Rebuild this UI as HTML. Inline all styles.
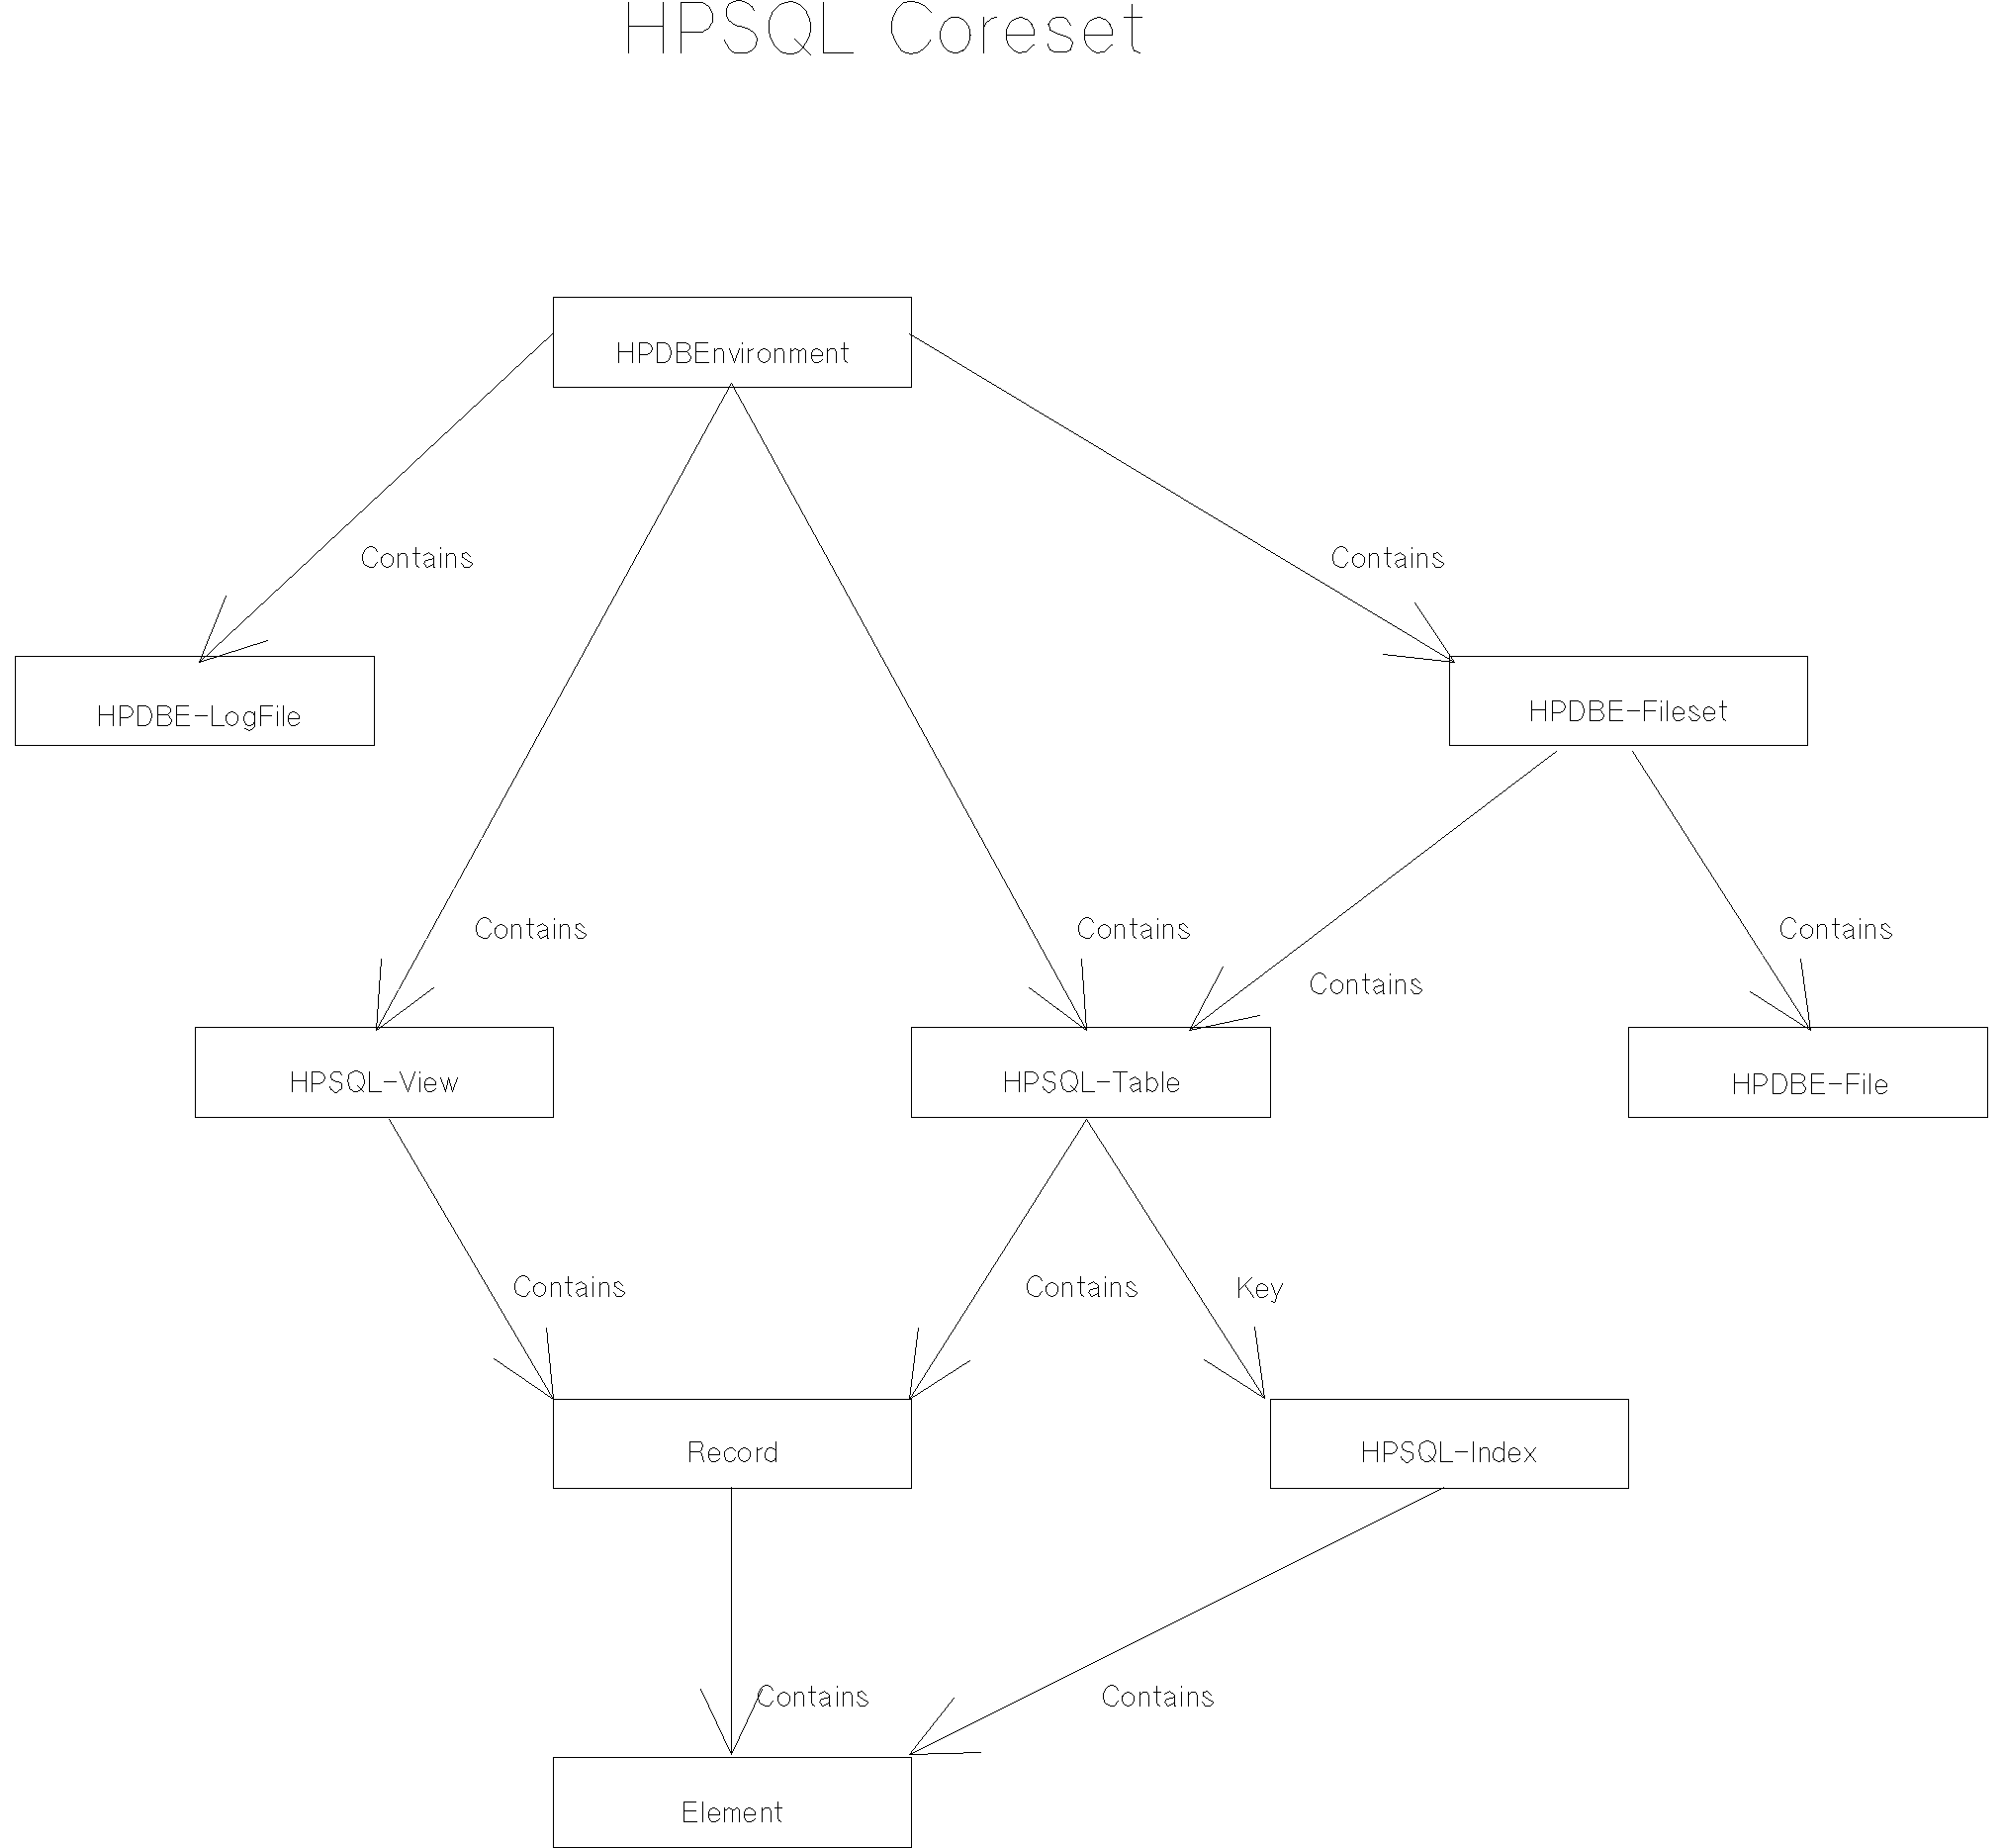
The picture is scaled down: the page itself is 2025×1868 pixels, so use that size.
<!DOCTYPE html><html><head><meta charset="utf-8"><title>HPSQL Coreset</title><style>html,body{margin:0;padding:0;background:#fff;overflow:hidden}svg{display:block}</style></head><body><svg width="2025" height="1868" viewBox="0 0 2025 1868" shape-rendering="crispEdges"><rect width="2025" height="1868" fill="#fff"/><path fill="#000" d="M559 300h363v1h-363zM559 391h363v1h-363zM559 300h1v92h-1zM921 300h1v92h-1zM15 663h364v1h-364zM15 753h364v1h-364zM15 663h1v91h-1zM378 663h1v91h-1zM1465 663h363v1h-363zM1465 753h363v1h-363zM1465 663h1v91h-1zM1827 663h1v91h-1zM197 1038h363v1h-363zM197 1129h363v1h-363zM197 1038h1v92h-1zM559 1038h1v92h-1zM921 1038h364v1h-364zM921 1129h364v1h-364zM921 1038h1v92h-1zM1284 1038h1v92h-1zM1646 1038h364v1h-364zM1646 1129h364v1h-364zM1646 1038h1v92h-1zM2009 1038h1v92h-1zM559 1414h363v1h-363zM559 1504h363v1h-363zM559 1414h1v91h-1zM921 1414h1v91h-1zM1284 1414h363v1h-363zM1284 1504h363v1h-363zM1284 1414h1v91h-1zM1646 1414h1v91h-1zM559 1776h363v1h-363zM559 1867h363v1h-363zM559 1776h1v92h-1zM921 1776h1v92h-1zM559.02 337.55L201.02 670.48L201.02 669.48L559.02 336.55ZM200.82 670.01L228.22 602.01L229.22 602.01L201.82 670.01ZM201.02 669.17L271.02 646.85L271.02 647.85L201.02 670.17ZM740.29 387.01L380.74 1042.01L379.74 1042.01L739.29 387.01ZM379.98 1042.01L385.05 969.01L386.05 969.01L380.98 1042.01ZM380.02 1041.38L439.02 997.64L439.02 998.64L380.02 1042.38ZM739.74 387.01L1099.29 1042.01L1098.29 1042.01L738.74 387.01ZM1099.02 1042.38L1040.02 998.64L1040.02 997.64L1099.02 1041.38ZM1098.05 1042.01L1092.98 969.01L1093.98 969.01L1099.05 1042.01ZM919.02 336.71L1471.02 669.31L1471.02 670.31L919.02 337.71ZM1471.02 670.07L1398.02 661.96L1398.02 660.96L1471.02 669.07ZM1470.35 670.01L1429.68 609.01L1430.68 609.01L1471.35 670.01ZM1574.02 759.63L1202.02 1042.39L1202.02 1041.39L1574.02 758.63ZM1201.75 1042.01L1236.28 977.01L1237.28 977.01L1202.75 1042.01ZM1202.02 1041.12L1274.02 1025.91L1274.02 1026.91L1202.02 1042.12ZM1650.7 759.01L1831.34 1042.01L1830.34 1042.01L1649.7 759.01ZM1831.02 1042.33L1769.02 1002.69L1769.02 1001.69L1831.02 1041.33ZM1830.09 1042.01L1819.95 969.01L1820.95 969.01L1831.09 1042.01ZM393.72 1131.01L560.31 1415.01L559.31 1415.01L392.72 1131.01ZM560.02 1415.35L499.02 1373.67L499.02 1372.67L560.02 1414.35ZM559.07 1415.01L551.97 1342.01L552.97 1342.01L560.07 1415.01ZM1099.33 1131.01L919.7 1415.01L918.7 1415.01L1098.33 1131.01ZM918.95 1415.01L928.08 1342.01L929.08 1342.01L919.95 1415.01ZM919.02 1414.33L981.02 1374.69L981.02 1375.69L919.02 1415.33ZM1098.7 1131.01L1279.34 1414.01L1278.34 1414.01L1097.7 1131.01ZM1279.02 1414.33L1217.02 1374.69L1217.02 1373.69L1279.02 1413.33ZM1278.09 1414.01L1267.95 1341.01L1268.95 1341.01L1279.09 1414.01ZM740.02 1503.01L740.02 1774.01L739.02 1774.01L739.02 1503.01ZM739.25 1774.01L707.78 1707.01L708.78 1707.01L740.25 1774.01ZM738.78 1774.01L770.25 1707.01L771.25 1707.01L739.78 1774.01ZM1460.02 1503.76L919.02 1774.26L919.02 1773.26L1460.02 1502.76ZM918.62 1774.01L964.41 1716.01L965.41 1716.01L919.62 1774.01ZM919.02 1773.03L992.02 1771L992.02 1772L919.02 1774.03Z"/><path fill="#000" d="M636.02 1.81L636.02 54.01L635.02 54.01L635.02 1.81ZM671.3 1.81L671.3 54.01L670.3 54.01L670.3 1.81ZM635.02 26.13L671.3 26.13L671.3 27.13L635.02 27.13ZM688.02 54.01L688.02 1.81L689.02 1.81L689.02 54.01ZM688.02 1.81L710.19 1.81L710.19 2.81L688.02 2.81ZM709.19 1.51L716.99 6.21L716.99 7.21L709.19 2.51ZM716.71 5.91L721.3 14.08L720.3 14.08L715.71 5.91ZM721 13.08L721.29 21.76L720.29 21.76L720 13.08ZM721.57 20.76L716.69 28.93L715.69 28.93L720.57 20.76ZM716.99 28.62L709.19 33.32L709.19 32.32L716.99 27.62ZM710.19 33.02L688.02 33.02L688.02 32.02L710.19 32.02ZM762.31 11L759.18 5.91L760.18 5.91L763.31 11ZM760.49 7.28L753.94 2.44L753.94 1.44L760.49 6.28ZM754.94 2.98L747.64 0.6L747.64 -0.4L754.94 1.98ZM748.64 0.68L741.85 1.88L741.85 0.88L748.64 -0.32ZM742.85 1.54L736.3 4.86L736.3 3.86L742.85 0.54ZM737.55 3.6L734.79 9.21L733.79 9.21L736.55 3.6ZM735.03 8.21L735.03 16.64L734.03 16.64L734.03 8.21ZM734.79 15.64L737.55 21.25L736.55 21.25L733.79 15.64ZM736.3 19.87L743.85 25.48L743.85 26.48L736.3 20.87ZM742.85 25L750.91 26.75L750.91 27.75L742.85 26ZM749.91 26.47L758.22 29.38L758.22 30.38L749.91 27.47ZM757.22 28.81L764.01 34.21L764.01 35.21L757.22 29.81ZM763.83 33.81L766.21 40.45L765.21 40.45L762.83 33.81ZM766.15 39.45L764.4 46.84L763.4 46.84L765.15 39.45ZM764.93 45.84L760.07 51.71L759.07 51.71L763.93 45.84ZM760.49 51.5L753.94 54.22L753.94 53.22L760.49 50.5ZM754.94 54.01L741.85 54.01L741.85 53.01L754.94 53.01ZM742.85 54.36L737.81 50.85L737.81 49.85L742.85 53.36ZM738.11 51.2L731.21 39.7L732.21 39.7L739.11 51.2ZM799.44 1.64L787.6 5.27L787.6 4.27L799.44 0.64ZM789.08 4.12L781.32 12.28L780.32 12.28L788.08 4.12ZM782.02 11.28L778.55 18.94L777.55 18.94L781.02 11.28ZM778.85 17.94L777.94 24.06L776.94 24.06L777.85 17.94ZM778.02 23.06L778.02 32L777.02 32L777.02 23.06ZM777.92 31L779.12 37.37L778.12 37.37L776.92 31ZM778.77 36.37L784.07 46.59L783.07 46.59L777.77 36.37ZM783.32 45.59L790.61 52.99L789.61 52.99L782.32 45.59ZM789.11 51.84L796.16 53.93L796.16 54.93L789.11 52.84ZM795.16 53.78L802.46 53.78L802.46 54.78L795.16 54.78ZM801.46 53.94L808.01 51.83L808.01 52.83L801.46 54.94ZM807.01 52.47L812.54 47.16L812.54 48.16L807.01 53.47ZM811.28 48.64L813.57 44.31L814.57 44.31L812.28 48.64ZM813.04 45.31L818.11 35.86L819.11 35.86L814.04 45.31ZM817.74 36.86L818.95 31L819.95 31L818.74 36.86ZM818.85 32L818.85 23.06L819.85 23.06L819.85 32ZM818.95 24.06L817.74 17.94L818.74 17.94L819.95 24.06ZM818.08 18.94L814.08 10.52L815.08 10.52L819.08 18.94ZM815.31 12.01L807.76 4.63L807.76 3.63L815.31 11.01ZM808.76 5.41L804.23 2.78L804.23 1.78L808.76 4.41ZM805.23 3.18L798.44 1.68L798.44 0.68L805.23 2.18ZM803.23 39.23L819.6 54.77L819.6 55.77L803.23 40.23ZM833.02 1.81L833.02 54.01L832.02 54.01L832.02 1.81ZM832.02 53.01L862.75 53.01L862.75 54.01L832.02 54.01ZM940.8 12.8L933.81 5.4L934.81 5.4L941.8 12.8ZM935.28 6.64L926.97 2.68L926.97 1.68L935.28 5.64ZM927.97 3L920.67 1.7L920.67 0.7L927.97 2ZM921.67 1.71L913.62 3L913.62 2L921.67 0.71ZM914.62 2.52L909.59 6.54L909.59 5.54L914.62 1.52ZM911 5.14L906.14 11L905.14 11L910 5.14ZM906.8 10L902.78 18.17L901.78 18.17L905.8 10ZM903.11 17.17L901.68 25.34L900.68 25.34L902.11 17.17ZM901.73 24.34L902.56 34.81L901.56 34.81L900.73 24.34ZM902.3 33.81L906.78 43.77L905.78 43.77L901.3 33.81ZM906.22 42.77L912.18 51.71L911.18 51.71L905.22 42.77ZM910.85 50.48L916.89 53.24L916.89 54.24L910.85 51.48ZM915.89 52.93L921.67 53.86L921.67 54.86L915.89 53.93ZM920.67 53.87L928.73 52.41L928.73 53.41L920.67 54.87ZM927.73 52.82L933.52 49.11L933.52 50.11L927.73 53.82ZM932.52 49.87L937.55 45.4L937.55 46.4L932.52 50.87ZM936.24 46.84L940.64 39.7L941.64 39.7L937.24 46.84ZM981.56 34.84L980.93 40.54L979.93 40.54L980.56 34.84ZM981.16 39.54L979.29 44.92L978.29 44.92L980.16 39.54ZM979.79 43.92L976.72 48.69L975.72 48.69L978.79 43.92ZM977.04 48.23L972.89 52.04L972.89 51.04L977.04 47.23ZM973.89 51.33L969.21 53.64L969.21 52.64L973.89 50.33ZM970.21 53.32L965.26 54.09L965.26 53.09L970.21 52.32ZM966.26 54.09L961.32 53.32L961.32 52.32L966.26 53.09ZM962.32 53.64L957.64 51.33L957.64 50.33L962.32 52.64ZM958.64 52.04L954.48 48.23L954.48 47.23L958.64 51.04ZM954.8 48.69L951.74 43.92L952.74 43.92L955.8 48.69ZM952.23 44.92L950.36 39.54L951.36 39.54L953.23 44.92ZM950.59 40.54L949.96 34.84L950.96 34.84L951.59 40.54ZM949.96 35.84L950.59 30.13L951.59 30.13L950.96 35.84ZM950.36 31.13L952.23 25.75L953.23 25.75L951.36 31.13ZM951.74 26.75L954.8 21.98L955.8 21.98L952.74 26.75ZM954.48 22.44L958.64 18.64L958.64 19.64L954.48 23.44ZM957.64 19.34L962.32 17.03L962.32 18.03L957.64 20.34ZM961.32 17.36L966.26 16.58L966.26 17.58L961.32 18.36ZM965.26 16.58L970.21 17.36L970.21 18.36L965.26 17.58ZM969.21 17.03L973.89 19.34L973.89 20.34L969.21 18.03ZM972.89 18.64L977.04 22.44L977.04 23.44L972.89 19.64ZM976.72 21.98L979.79 26.75L978.79 26.75L975.72 21.98ZM979.29 25.75L981.16 31.13L980.16 31.13L978.29 25.75ZM980.93 30.13L981.56 35.84L980.56 35.84L979.93 30.13ZM995.02 16.66L995.02 54.01L994.02 54.01L994.02 16.66ZM993.74 28.41L996.81 22.8L997.81 22.8L994.74 28.41ZM996.54 23.26L1002.33 18L1002.33 19L996.54 24.26ZM1001.33 18.6L1008.37 16.51L1008.37 17.51L1001.33 19.6ZM1017.02 34.84L1046.24 34.84L1046.24 35.84L1017.02 35.84ZM1045.29 35.84L1044.69 29.46L1045.69 29.46L1046.29 35.84ZM1044.95 30.46L1042 23.57L1043 23.57L1045.95 30.46ZM1042.61 24.57L1038.8 19.73L1039.8 19.73L1043.61 24.57ZM1040.19 20.92L1030.88 17.48L1030.88 16.48L1040.19 19.92ZM1031.88 17.43L1021.55 22.25L1021.55 21.25L1031.88 16.43ZM1022.83 21.01L1018.24 29.18L1017.24 29.18L1021.83 21.01ZM1018.55 28.18L1017.99 39.42L1016.99 39.42L1017.55 28.18ZM1017.88 38.42L1019.92 45.82L1018.92 45.82L1016.88 38.42ZM1019.29 44.82L1026.07 51.71L1025.07 51.71L1018.29 44.82ZM1024.58 50.49L1030.87 53.23L1030.87 54.23L1024.58 51.49ZM1029.87 53.12L1038.18 51.37L1038.18 52.37L1029.87 54.12ZM1037.18 51.92L1045.74 44.38L1045.74 45.38L1037.18 52.92ZM1082.3 25.85L1076.56 17.68L1077.56 17.68L1083.3 25.85ZM1077.91 18.78L1071.37 17.57L1071.37 16.57L1077.91 17.78ZM1072.37 17.58L1063.55 19.02L1063.55 18.02L1072.37 16.58ZM1064.91 17.94L1060.16 24.57L1059.16 24.57L1063.91 17.94ZM1060.37 23.57L1062.69 31.23L1061.69 31.23L1059.37 23.57ZM1061.54 29.99L1067.83 33.03L1067.83 34.03L1061.54 30.99ZM1066.83 32.61L1081.94 38.09L1081.94 39.09L1066.83 33.61ZM1081.56 37.91L1085.59 43.26L1084.59 43.26L1080.56 37.91ZM1085.39 42.26L1082.53 50.68L1081.53 50.68L1084.39 42.26ZM1082.7 50.38L1077.92 53.29L1077.92 52.29L1082.7 49.38ZM1078.92 52.99L1065.82 52.99L1065.82 51.99L1078.92 51.99ZM1066.82 53.22L1060.78 50.46L1060.78 49.46L1066.82 52.22ZM1060.97 50.68L1058.33 43.54L1059.33 43.54L1061.97 50.68ZM1096.02 34.84L1125.24 34.84L1125.24 35.84L1096.02 35.84ZM1124.29 35.84L1123.69 29.46L1124.69 29.46L1125.29 35.84ZM1123.95 30.46L1121 23.57L1122 23.57L1124.95 30.46ZM1121.61 24.57L1117.8 19.73L1118.8 19.73L1122.61 24.57ZM1119.19 20.92L1109.88 17.48L1109.88 16.48L1119.19 19.92ZM1110.88 17.43L1100.55 22.25L1100.55 21.25L1110.88 16.43ZM1101.83 21.01L1097.24 29.18L1096.24 29.18L1100.83 21.01ZM1097.55 28.18L1096.99 39.42L1095.99 39.42L1096.55 28.18ZM1096.88 38.42L1098.92 45.82L1097.92 45.82L1095.88 38.42ZM1098.29 44.82L1105.07 51.71L1104.07 51.71L1097.29 44.82ZM1103.58 50.49L1109.87 53.23L1109.87 54.23L1103.58 51.49ZM1108.87 53.12L1117.18 51.37L1117.18 52.37L1108.87 54.12ZM1116.18 51.92L1124.74 44.38L1124.74 45.38L1116.18 52.92ZM1136.02 17.17L1154.91 17.17L1154.91 18.17L1136.02 18.17ZM1145.08 3.6L1145.08 46.59L1144.08 46.59L1144.08 3.6ZM1144.91 45.59L1147.02 51.71L1146.02 51.71L1143.91 45.59ZM1145.85 50.53L1153.4 53.19L1153.4 54.19L1145.85 51.53ZM626.02 346.01L626.02 367.01L625.02 367.01L625.02 346.01ZM640.02 346.01L640.02 367.01L639.02 367.01L639.02 346.01ZM625.02 355.01L640.02 355.01L640.02 356.01L625.02 356.01ZM646.02 367.01L646.02 346.01L647.02 346.01L647.02 367.01ZM646.02 346.01L654.02 346.01L654.02 347.01L646.02 347.01ZM653.02 345.85L657.02 347.18L657.02 348.18L653.02 346.85ZM656.02 346.51L659.02 349.51L659.02 350.51L656.02 347.51ZM658.85 349.01L660.18 353.01L659.18 353.01L657.85 349.01ZM660.27 352.01L658.77 355.01L657.77 355.01L659.27 352.01ZM659.27 354.01L657.77 357.01L656.77 357.01L658.27 354.01ZM658.02 356.68L654.02 359.35L654.02 358.35L658.02 355.68ZM655.02 359.01L646.02 359.01L646.02 358.01L655.02 358.01ZM664.02 367.01L664.02 346.01L665.02 346.01L665.02 367.01ZM664.02 346.01L672.02 346.01L672.02 347.01L664.02 347.01ZM671.02 345.76L676.02 348.26L676.02 349.26L671.02 346.76ZM675.68 348.01L678.35 352.01L677.35 352.01L674.68 348.01ZM677.92 351.01L679.12 357.01L678.12 357.01L676.92 351.01ZM679.12 356.01L677.92 362.01L676.92 362.01L678.12 356.01ZM678.35 361.01L675.68 365.01L674.68 365.01L677.35 361.01ZM676.02 364.76L671.02 367.26L671.02 366.26L676.02 363.76ZM672.02 367.01L664.02 367.01L664.02 366.01L672.02 366.01ZM684.02 367.01L684.02 346.01L685.02 346.01L685.02 367.01ZM684.02 346.01L694.02 346.01L694.02 347.01L684.02 347.01ZM693.02 345.64L698.02 349.39L698.02 350.39L693.02 346.64ZM698.02 349.01L698.02 353.01L697.02 353.01L697.02 349.01ZM698.02 352.51L694.02 356.51L694.02 355.51L698.02 351.51ZM695.02 356.01L684.02 356.01L684.02 355.01L695.02 355.01ZM694.64 355.01L698.39 360.01L697.39 360.01L693.64 355.01ZM697.77 359.01L699.27 362.01L698.27 362.01L696.77 359.01ZM699.18 361.01L697.85 365.01L696.85 365.01L698.18 361.01ZM698.02 364.68L694.02 367.35L694.02 366.35L698.02 363.68ZM695.02 367.01L684.02 367.01L684.02 366.01L695.02 366.01ZM716.02 347.01L703.02 347.01L703.02 346.01L716.02 346.01ZM704.02 346.01L704.02 367.01L703.02 367.01L703.02 346.01ZM703.02 366.01L717.02 366.01L717.02 367.01L703.02 367.01ZM703.02 355.01L716.02 355.01L716.02 356.01L703.02 356.01ZM723.02 352.01L723.02 367.01L722.02 367.01L722.02 352.01ZM722.02 355.51L726.02 351.51L726.02 352.51L722.02 356.51ZM725.02 352.01L730.02 352.01L730.02 353.01L725.02 353.01ZM729.68 352.01L732.35 356.01L731.35 356.01L728.68 352.01ZM732.02 355.01L732.02 367.01L731.02 367.01L731.02 355.01ZM737.84 352.01L743.2 367.01L742.2 367.01L736.84 352.01ZM741.84 367.01L747.2 352.01L748.2 352.01L742.84 367.01ZM751.02 352.01L751.02 367.01L750.02 367.01L750.02 352.01ZM757.02 352.01L757.02 367.01L756.02 367.01L756.02 352.01ZM756.02 355.35L760.02 352.68L760.02 353.68L756.02 356.35ZM759.02 353.26L762.02 351.76L762.02 352.76L759.02 354.26ZM773.02 352.8L768.52 354.73L768.52 353.73L773.02 351.8ZM769.92 353.51L767.12 357.01L766.12 357.01L768.92 353.51ZM767.6 356.01L766.93 360.01L765.93 360.01L766.6 356.01ZM766.92 359.01L767.62 362.51L766.62 362.51L765.92 359.01ZM767.18 361.51L769.85 365.51L768.85 365.51L766.18 361.51ZM768.52 364.3L773.02 366.23L773.02 367.23L768.52 365.3ZM772.02 366.23L776.52 364.3L776.52 365.3L772.02 367.23ZM775.18 365.51L777.85 361.51L778.85 361.51L776.18 365.51ZM777.42 362.51L778.12 359.01L779.12 359.01L778.42 362.51ZM778.1 360.01L777.43 356.01L778.43 356.01L779.1 360.01ZM777.92 357.01L775.12 353.51L776.12 353.51L778.92 357.01ZM776.52 354.73L772.02 352.8L772.02 351.8L776.52 353.73ZM784.02 352.01L784.02 367.01L783.02 367.01L783.02 352.01ZM783.02 355.51L787.02 351.51L787.02 352.51L783.02 356.51ZM786.02 352.01L791.02 352.01L791.02 353.01L786.02 353.01ZM790.68 352.01L793.35 356.01L792.35 356.01L789.68 352.01ZM793.02 355.01L793.02 367.01L792.02 367.01L792.02 355.01ZM800.02 352.01L800.02 367.01L799.02 367.01L799.02 352.01ZM799.02 355.39L804.02 351.64L804.02 352.64L799.02 356.39ZM803.02 351.85L807.02 353.18L807.02 354.18L803.02 352.85ZM806.77 353.01L808.27 356.01L807.27 356.01L805.77 353.01ZM808.02 355.01L808.02 367.01L807.02 367.01L807.02 355.01ZM807.02 355.39L812.02 351.64L812.02 352.64L807.02 356.39ZM811.02 351.76L814.02 353.26L814.02 354.26L811.02 352.76ZM813.77 353.01L815.27 356.01L814.27 356.01L812.77 353.01ZM815.02 355.01L815.02 367.01L814.02 367.01L814.02 355.01ZM820.02 359.01L832.02 359.01L832.02 360.01L820.02 360.01ZM831.1 360.01L830.43 356.01L831.43 356.01L832.1 360.01ZM830.92 357.01L828.12 353.51L829.12 353.51L831.92 357.01ZM829.52 354.73L825.02 352.8L825.02 351.8L829.52 353.73ZM826.02 352.8L821.52 354.73L821.52 353.73L826.02 351.8ZM822.82 353.51L820.72 357.01L819.72 357.01L821.82 353.51ZM821.02 356.01L821.02 362.51L820.02 362.51L820.02 356.01ZM820.82 361.51L822.22 365.01L821.22 365.01L819.82 361.51ZM821.02 363.61L824.52 366.41L824.52 367.41L821.02 364.61ZM823.52 366.01L827.52 366.01L827.52 367.01L823.52 367.01ZM826.52 366.26L830.52 364.26L830.52 365.26L826.52 367.26ZM829.52 365.01L832.02 362.51L832.02 363.51L829.52 366.01ZM837.02 352.01L837.02 367.01L836.02 367.01L836.02 352.01ZM836.02 355.51L840.02 351.51L840.02 352.51L836.02 356.51ZM839.02 352.01L844.02 352.01L844.02 353.01L839.02 353.01ZM843.68 352.01L846.35 356.01L845.35 356.01L842.68 352.01ZM846.02 355.01L846.02 367.01L845.02 367.01L845.02 355.01ZM850.02 352.01L858.02 352.01L858.02 353.01L850.02 353.01ZM854.02 346.01L854.02 364.01L853.02 364.01L853.02 346.01ZM853.77 363.01L855.27 366.01L854.27 366.01L852.77 363.01ZM854.02 364.76L857.02 366.26L857.02 367.26L854.02 365.76ZM750 346h1v2h-1zM101.02 713.01L101.02 734.01L100.02 734.01L100.02 713.01ZM115.02 713.01L115.02 734.01L114.02 734.01L114.02 713.01ZM100.02 722.01L115.02 722.01L115.02 723.01L100.02 723.01ZM121.02 734.01L121.02 713.01L122.02 713.01L122.02 734.01ZM121.02 713.01L129.02 713.01L129.02 714.01L121.02 714.01ZM128.02 712.85L132.02 714.18L132.02 715.18L128.02 713.85ZM131.02 713.51L134.02 716.51L134.02 717.51L131.02 714.51ZM133.85 716.01L135.18 720.01L134.18 720.01L132.85 716.01ZM135.27 719.01L133.77 722.01L132.77 722.01L134.27 719.01ZM134.27 721.01L132.77 724.01L131.77 724.01L133.27 721.01ZM133.02 723.68L129.02 726.35L129.02 725.35L133.02 722.68ZM130.02 726.01L121.02 726.01L121.02 725.01L130.02 725.01ZM139.02 734.01L139.02 713.01L140.02 713.01L140.02 734.01ZM139.02 713.01L147.02 713.01L147.02 714.01L139.02 714.01ZM146.02 712.76L151.02 715.26L151.02 716.26L146.02 713.76ZM150.68 715.01L153.35 719.01L152.35 719.01L149.68 715.01ZM152.92 718.01L154.12 724.01L153.12 724.01L151.92 718.01ZM154.12 723.01L152.92 729.01L151.92 729.01L153.12 723.01ZM153.35 728.01L150.68 732.01L149.68 732.01L152.35 728.01ZM151.02 731.76L146.02 734.26L146.02 733.26L151.02 730.76ZM147.02 734.01L139.02 734.01L139.02 733.01L147.02 733.01ZM159.02 734.01L159.02 713.01L160.02 713.01L160.02 734.01ZM159.02 713.01L169.02 713.01L169.02 714.01L159.02 714.01ZM168.02 712.64L173.02 716.39L173.02 717.39L168.02 713.64ZM173.02 716.01L173.02 720.01L172.02 720.01L172.02 716.01ZM173.02 719.51L169.02 723.51L169.02 722.51L173.02 718.51ZM170.02 723.01L159.02 723.01L159.02 722.01L170.02 722.01ZM169.64 722.01L173.39 727.01L172.39 727.01L168.64 722.01ZM172.77 726.01L174.27 729.01L173.27 729.01L171.77 726.01ZM174.18 728.01L172.85 732.01L171.85 732.01L173.18 728.01ZM173.02 731.68L169.02 734.35L169.02 733.35L173.02 730.68ZM170.02 734.01L159.02 734.01L159.02 733.01L170.02 733.01ZM191.02 714.01L178.02 714.01L178.02 713.01L191.02 713.01ZM179.02 713.01L179.02 734.01L178.02 734.01L178.02 713.01ZM178.02 733.01L192.02 733.01L192.02 734.01L178.02 734.01ZM178.02 722.01L191.02 722.01L191.02 723.01L178.02 723.01ZM197.02 723.01L210.02 723.01L210.02 724.01L197.02 724.01ZM215.02 713.01L215.02 734.01L214.02 734.01L214.02 713.01ZM214.02 733.01L227.02 733.01L227.02 734.01L214.02 734.01ZM235.02 719.8L230.52 721.73L230.52 720.73L235.02 718.8ZM231.92 720.51L229.12 724.01L228.12 724.01L230.92 720.51ZM229.6 723.01L228.93 727.01L227.93 727.01L228.6 723.01ZM228.92 726.01L229.62 729.51L228.62 729.51L227.92 726.01ZM229.18 728.51L231.85 732.51L230.85 732.51L228.18 728.51ZM230.52 731.3L235.02 733.23L235.02 734.23L230.52 732.3ZM234.02 733.23L238.52 731.3L238.52 732.3L234.02 734.23ZM237.18 732.51L239.85 728.51L240.85 728.51L238.18 732.51ZM239.42 729.51L240.12 726.01L241.12 726.01L240.42 729.51ZM240.1 727.01L239.43 723.01L240.43 723.01L241.1 727.01ZM239.92 724.01L237.12 720.51L238.12 720.51L240.92 724.01ZM238.52 721.73L234.02 719.8L234.02 718.8L238.52 720.73ZM258.02 719.01L258.02 735.01L257.02 735.01L257.02 719.01ZM258.02 734.51L255.02 737.51L255.02 736.51L258.02 733.51ZM256.02 736.76L251.02 739.26L251.02 738.26L256.02 735.76ZM252.02 739.26L247.02 736.76L247.02 735.76L252.02 738.26ZM257.35 724.01L254.68 720.01L255.68 720.01L258.35 724.01ZM256.02 721.14L251.02 719.89L251.02 718.89L256.02 720.14ZM252.02 719.85L248.02 721.18L248.02 720.18L252.02 718.85ZM249.22 720.01L246.82 726.01L245.82 726.01L248.22 720.01ZM247.02 725.01L247.02 729.01L246.02 729.01L246.02 725.01ZM246.77 728.01L249.27 733.01L248.27 733.01L245.77 728.01ZM248.02 731.85L252.02 733.18L252.02 734.18L248.02 732.85ZM251.02 733.14L256.02 731.89L256.02 732.89L251.02 734.14ZM254.68 733.01L257.35 729.01L258.35 729.01L255.68 733.01ZM276.02 714.01L263.02 714.01L263.02 713.01L276.02 713.01ZM264.02 713.01L264.02 734.01L263.02 734.01L263.02 713.01ZM263.02 723.01L275.02 723.01L275.02 724.01L263.02 724.01ZM281.02 719.01L281.02 734.01L280.02 734.01L280.02 719.01ZM287.02 713.01L287.02 734.01L286.02 734.01L286.02 713.01ZM291.02 726.01L303.02 726.01L303.02 727.01L291.02 727.01ZM302.1 727.01L301.43 723.01L302.43 723.01L303.1 727.01ZM301.92 724.01L299.12 720.51L300.12 720.51L302.92 724.01ZM300.52 721.73L296.02 719.8L296.02 718.8L300.52 720.73ZM297.02 719.8L292.52 721.73L292.52 720.73L297.02 718.8ZM293.82 720.51L291.72 724.01L290.72 724.01L292.82 720.51ZM292.02 723.01L292.02 729.51L291.02 729.51L291.02 723.01ZM291.82 728.51L293.22 732.01L292.22 732.01L290.82 728.51ZM292.02 730.61L295.52 733.41L295.52 734.41L292.02 731.61ZM294.52 733.01L298.52 733.01L298.52 734.01L294.52 734.01ZM297.52 733.26L301.52 731.26L301.52 732.26L297.52 734.26ZM300.52 732.01L303.02 729.51L303.02 730.51L300.52 733.01ZM280 713h1v2h-1zM1549.02 708.01L1549.02 729.01L1548.02 729.01L1548.02 708.01ZM1563.02 708.01L1563.02 729.01L1562.02 729.01L1562.02 708.01ZM1548.02 717.01L1563.02 717.01L1563.02 718.01L1548.02 718.01ZM1569.02 729.01L1569.02 708.01L1570.02 708.01L1570.02 729.01ZM1569.02 708.01L1577.02 708.01L1577.02 709.01L1569.02 709.01ZM1576.02 707.85L1580.02 709.18L1580.02 710.18L1576.02 708.85ZM1579.02 708.51L1582.02 711.51L1582.02 712.51L1579.02 709.51ZM1581.85 711.01L1583.18 715.01L1582.18 715.01L1580.85 711.01ZM1583.27 714.01L1581.77 717.01L1580.77 717.01L1582.27 714.01ZM1582.27 716.01L1580.77 719.01L1579.77 719.01L1581.27 716.01ZM1581.02 718.68L1577.02 721.35L1577.02 720.35L1581.02 717.68ZM1578.02 721.01L1569.02 721.01L1569.02 720.01L1578.02 720.01ZM1587.02 729.01L1587.02 708.01L1588.02 708.01L1588.02 729.01ZM1587.02 708.01L1595.02 708.01L1595.02 709.01L1587.02 709.01ZM1594.02 707.76L1599.02 710.26L1599.02 711.26L1594.02 708.76ZM1598.68 710.01L1601.35 714.01L1600.35 714.01L1597.68 710.01ZM1600.92 713.01L1602.12 719.01L1601.12 719.01L1599.92 713.01ZM1602.12 718.01L1600.92 724.01L1599.92 724.01L1601.12 718.01ZM1601.35 723.01L1598.68 727.01L1597.68 727.01L1600.35 723.01ZM1599.02 726.76L1594.02 729.26L1594.02 728.26L1599.02 725.76ZM1595.02 729.01L1587.02 729.01L1587.02 728.01L1595.02 728.01ZM1607.02 729.01L1607.02 708.01L1608.02 708.01L1608.02 729.01ZM1607.02 708.01L1617.02 708.01L1617.02 709.01L1607.02 709.01ZM1616.02 707.64L1621.02 711.39L1621.02 712.39L1616.02 708.64ZM1621.02 711.01L1621.02 715.01L1620.02 715.01L1620.02 711.01ZM1621.02 714.51L1617.02 718.51L1617.02 717.51L1621.02 713.51ZM1618.02 718.01L1607.02 718.01L1607.02 717.01L1618.02 717.01ZM1617.64 717.01L1621.39 722.01L1620.39 722.01L1616.64 717.01ZM1620.77 721.01L1622.27 724.01L1621.27 724.01L1619.77 721.01ZM1622.18 723.01L1620.85 727.01L1619.85 727.01L1621.18 723.01ZM1621.02 726.68L1617.02 729.35L1617.02 728.35L1621.02 725.68ZM1618.02 729.01L1607.02 729.01L1607.02 728.01L1618.02 728.01ZM1640.02 709.01L1627.02 709.01L1627.02 708.01L1640.02 708.01ZM1628.02 708.01L1628.02 729.01L1627.02 729.01L1627.02 708.01ZM1627.02 728.01L1641.02 728.01L1641.02 729.01L1627.02 729.01ZM1627.02 717.01L1640.02 717.01L1640.02 718.01L1627.02 718.01ZM1645.02 718.01L1658.02 718.01L1658.02 719.01L1645.02 719.01ZM1675.02 709.01L1662.02 709.01L1662.02 708.01L1675.02 708.01ZM1663.02 708.01L1663.02 729.01L1662.02 729.01L1662.02 708.01ZM1662.02 718.01L1674.02 718.01L1674.02 719.01L1662.02 719.01ZM1680.02 714.01L1680.02 729.01L1679.02 729.01L1679.02 714.01ZM1686.02 708.01L1686.02 729.01L1685.02 729.01L1685.02 708.01ZM1691.02 721.01L1703.02 721.01L1703.02 722.01L1691.02 722.01ZM1702.1 722.01L1701.43 718.01L1702.43 718.01L1703.1 722.01ZM1701.92 719.01L1699.12 715.51L1700.12 715.51L1702.92 719.01ZM1700.52 716.73L1696.02 714.8L1696.02 713.8L1700.52 715.73ZM1697.02 714.8L1692.52 716.73L1692.52 715.73L1697.02 713.8ZM1693.82 715.51L1691.72 719.01L1690.72 719.01L1692.82 715.51ZM1692.02 718.01L1692.02 724.51L1691.02 724.51L1691.02 718.01ZM1691.82 723.51L1693.22 727.01L1692.22 727.01L1690.82 723.51ZM1692.02 725.61L1695.52 728.41L1695.52 729.41L1692.02 726.61ZM1694.52 728.01L1698.52 728.01L1698.52 729.01L1694.52 729.01ZM1697.52 728.26L1701.52 726.26L1701.52 727.26L1697.52 729.26ZM1700.52 727.01L1703.02 724.51L1703.02 725.51L1700.52 728.01ZM1717.02 718.51L1712.02 713.51L1712.02 712.51L1717.02 717.51ZM1713.02 713.89L1708.02 715.14L1708.02 714.14L1713.02 712.89ZM1709.02 714.01L1709.02 719.01L1708.02 719.01L1708.02 714.01ZM1708.02 717.76L1711.02 719.26L1711.02 720.26L1708.02 718.76ZM1710.02 718.7L1719.02 724.33L1719.02 725.33L1710.02 719.7ZM1719.02 724.01L1719.02 726.01L1718.02 726.01L1718.02 724.01ZM1719.02 725.51L1715.02 729.51L1715.02 728.51L1719.02 724.51ZM1716.02 729.01L1710.02 729.01L1710.02 728.01L1716.02 728.01ZM1710.39 729.01L1706.64 724.01L1707.64 724.01L1711.39 729.01ZM1722.02 721.01L1734.02 721.01L1734.02 722.01L1722.02 722.01ZM1733.1 722.01L1732.43 718.01L1733.43 718.01L1734.1 722.01ZM1732.92 719.01L1730.12 715.51L1731.12 715.51L1733.92 719.01ZM1731.52 716.73L1727.02 714.8L1727.02 713.8L1731.52 715.73ZM1728.02 714.8L1723.52 716.73L1723.52 715.73L1728.02 713.8ZM1724.82 715.51L1722.72 719.01L1721.72 719.01L1723.82 715.51ZM1723.02 718.01L1723.02 724.51L1722.02 724.51L1722.02 718.01ZM1722.82 723.51L1724.22 727.01L1723.22 727.01L1721.82 723.51ZM1723.02 725.61L1726.52 728.41L1726.52 729.41L1723.02 726.61ZM1725.52 728.01L1729.52 728.01L1729.52 729.01L1725.52 729.01ZM1728.52 728.26L1732.52 726.26L1732.52 727.26L1728.52 729.26ZM1731.52 727.01L1734.02 724.51L1734.02 725.51L1731.52 728.01ZM1738.02 714.01L1746.02 714.01L1746.02 715.01L1738.02 715.01ZM1742.02 708.01L1742.02 726.01L1741.02 726.01L1741.02 708.01ZM1741.77 725.01L1743.27 728.01L1742.27 728.01L1740.77 725.01ZM1742.02 726.76L1745.02 728.26L1745.02 729.26L1742.02 727.76ZM1679 708h1v2h-1zM296.02 1083.01L296.02 1104.01L295.02 1104.01L295.02 1083.01ZM310.02 1083.01L310.02 1104.01L309.02 1104.01L309.02 1083.01ZM295.02 1092.01L310.02 1092.01L310.02 1093.01L295.02 1093.01ZM315.02 1104.01L315.02 1083.01L316.02 1083.01L316.02 1104.01ZM315.02 1083.01L323.02 1083.01L323.02 1084.01L315.02 1084.01ZM322.02 1082.85L326.02 1084.18L326.02 1085.18L322.02 1083.85ZM325.02 1083.51L328.02 1086.51L328.02 1087.51L325.02 1084.51ZM327.85 1086.01L329.18 1090.01L328.18 1090.01L326.85 1086.01ZM329.27 1089.01L327.77 1092.01L326.77 1092.01L328.27 1089.01ZM328.27 1091.01L326.77 1094.01L325.77 1094.01L327.27 1091.01ZM327.02 1093.68L323.02 1096.35L323.02 1095.35L327.02 1092.68ZM324.02 1096.01L315.02 1096.01L315.02 1095.01L324.02 1095.01ZM345.35 1087.01L342.68 1083.01L343.68 1083.01L346.35 1087.01ZM344.02 1084.01L337.02 1084.01L337.02 1083.01L344.02 1083.01ZM338.02 1083.51L336.02 1085.51L336.02 1084.51L338.02 1082.51ZM337.02 1084.51L334.02 1087.51L334.02 1086.51L337.02 1083.51ZM335.02 1086.01L335.02 1090.01L334.02 1090.01L334.02 1086.01ZM334.77 1089.01L336.27 1092.01L335.27 1092.01L333.77 1089.01ZM335.02 1090.76L340.02 1093.26L340.02 1094.26L335.02 1091.76ZM339.02 1093.01L343.02 1093.01L343.02 1094.01L339.02 1094.01ZM342.02 1092.68L346.02 1095.35L346.02 1096.35L342.02 1093.68ZM346.02 1095.01L346.02 1101.01L345.02 1101.01L345.02 1095.01ZM346.02 1100.68L342.02 1103.35L342.02 1102.35L346.02 1099.68ZM343.02 1102.51L340.02 1105.51L340.02 1104.51L343.02 1101.51ZM341.02 1105.01L338.02 1105.01L338.02 1104.01L341.02 1104.01ZM339.02 1105.51L336.02 1102.51L336.02 1101.51L339.02 1104.51ZM337.02 1103.26L334.02 1101.76L334.02 1100.76L337.02 1102.26ZM334.18 1102.01L332.85 1098.01L333.85 1098.01L335.18 1102.01ZM360.02 1082.81L354.02 1085.21L354.02 1084.21L360.02 1081.81ZM355.02 1084.51L352.02 1087.51L352.02 1086.51L355.02 1083.51ZM353.02 1086.01L353.02 1089.01L352.02 1089.01L352.02 1086.01ZM353.14 1088.01L351.89 1093.01L350.89 1093.01L352.14 1088.01ZM351.89 1092.01L353.14 1097.01L352.14 1097.01L350.89 1092.01ZM352.89 1096.01L354.14 1101.01L353.14 1101.01L351.89 1096.01ZM353.02 1099.64L358.02 1103.39L358.02 1104.39L353.02 1100.64ZM357.02 1103.01L362.02 1103.01L362.02 1104.01L357.02 1104.01ZM361.02 1103.39L366.02 1099.64L366.02 1100.64L361.02 1104.39ZM364.68 1101.01L367.35 1097.01L368.35 1097.01L365.68 1101.01ZM366.89 1098.01L368.14 1093.01L369.14 1093.01L367.89 1098.01ZM368.12 1094.01L366.92 1088.01L367.92 1088.01L369.12 1094.01ZM367.18 1089.01L365.85 1085.01L366.85 1085.01L368.18 1089.01ZM367.02 1086.35L363.02 1083.68L363.02 1082.68L367.02 1085.35ZM364.02 1084.14L359.02 1082.89L359.02 1081.89L364.02 1083.14ZM361.02 1096.51L368.02 1103.51L368.02 1104.51L361.02 1097.51ZM374.02 1083.01L374.02 1104.01L373.02 1104.01L373.02 1083.01ZM373.02 1103.01L386.02 1103.01L386.02 1104.01L373.02 1104.01ZM388.02 1093.01L401.02 1093.01L401.02 1094.01L388.02 1094.01ZM404.82 1083.01L413.22 1104.01L412.22 1104.01L403.82 1083.01ZM411.84 1104.01L419.19 1083.01L420.19 1083.01L412.84 1104.01ZM425.02 1089.01L425.02 1104.01L424.02 1104.01L424.02 1089.01ZM429.02 1096.01L441.02 1096.01L441.02 1097.01L429.02 1097.01ZM440.1 1097.01L439.43 1093.01L440.43 1093.01L441.1 1097.01ZM439.92 1094.01L437.12 1090.51L438.12 1090.51L440.92 1094.01ZM438.52 1091.73L434.02 1089.8L434.02 1088.8L438.52 1090.73ZM435.02 1089.8L430.52 1091.73L430.52 1090.73L435.02 1088.8ZM431.82 1090.51L429.72 1094.01L428.72 1094.01L430.82 1090.51ZM430.02 1093.01L430.02 1099.51L429.02 1099.51L429.02 1093.01ZM429.82 1098.51L431.22 1102.01L430.22 1102.01L428.82 1098.51ZM430.02 1100.61L433.52 1103.41L433.52 1104.41L430.02 1101.61ZM432.52 1103.01L436.52 1103.01L436.52 1104.01L432.52 1104.01ZM435.52 1103.26L439.52 1101.26L439.52 1102.26L435.52 1104.26ZM438.52 1102.01L441.02 1099.51L441.02 1100.51L438.52 1103.01ZM445.84 1089.01L451.2 1104.01L450.2 1104.01L444.84 1089.01ZM449.91 1104.01L453.12 1089.01L454.12 1089.01L450.91 1104.01ZM453.87 1089.01L458.16 1104.01L457.16 1104.01L452.87 1089.01ZM456.84 1104.01L462.2 1089.01L463.2 1089.01L457.84 1104.01ZM424 1083h1v2h-1zM1017.02 1083.01L1017.02 1104.01L1016.02 1104.01L1016.02 1083.01ZM1031.02 1083.01L1031.02 1104.01L1030.02 1104.01L1030.02 1083.01ZM1016.02 1092.01L1031.02 1092.01L1031.02 1093.01L1016.02 1093.01ZM1036.02 1104.01L1036.02 1083.01L1037.02 1083.01L1037.02 1104.01ZM1036.02 1083.01L1044.02 1083.01L1044.02 1084.01L1036.02 1084.01ZM1043.02 1082.85L1047.02 1084.18L1047.02 1085.18L1043.02 1083.85ZM1046.02 1083.51L1049.02 1086.51L1049.02 1087.51L1046.02 1084.51ZM1048.85 1086.01L1050.18 1090.01L1049.18 1090.01L1047.85 1086.01ZM1050.27 1089.01L1048.77 1092.01L1047.77 1092.01L1049.27 1089.01ZM1049.27 1091.01L1047.77 1094.01L1046.77 1094.01L1048.27 1091.01ZM1048.02 1093.68L1044.02 1096.35L1044.02 1095.35L1048.02 1092.68ZM1045.02 1096.01L1036.02 1096.01L1036.02 1095.01L1045.02 1095.01ZM1066.35 1087.01L1063.68 1083.01L1064.68 1083.01L1067.35 1087.01ZM1065.02 1084.01L1058.02 1084.01L1058.02 1083.01L1065.02 1083.01ZM1059.02 1083.51L1057.02 1085.51L1057.02 1084.51L1059.02 1082.51ZM1058.02 1084.51L1055.02 1087.51L1055.02 1086.51L1058.02 1083.51ZM1056.02 1086.01L1056.02 1090.01L1055.02 1090.01L1055.02 1086.01ZM1055.77 1089.01L1057.27 1092.01L1056.27 1092.01L1054.77 1089.01ZM1056.02 1090.76L1061.02 1093.26L1061.02 1094.26L1056.02 1091.76ZM1060.02 1093.01L1064.02 1093.01L1064.02 1094.01L1060.02 1094.01ZM1063.02 1092.68L1067.02 1095.35L1067.02 1096.35L1063.02 1093.68ZM1067.02 1095.01L1067.02 1101.01L1066.02 1101.01L1066.02 1095.01ZM1067.02 1100.68L1063.02 1103.35L1063.02 1102.35L1067.02 1099.68ZM1064.02 1102.51L1061.02 1105.51L1061.02 1104.51L1064.02 1101.51ZM1062.02 1105.01L1059.02 1105.01L1059.02 1104.01L1062.02 1104.01ZM1060.02 1105.51L1057.02 1102.51L1057.02 1101.51L1060.02 1104.51ZM1058.02 1103.26L1055.02 1101.76L1055.02 1100.76L1058.02 1102.26ZM1055.18 1102.01L1053.85 1098.01L1054.85 1098.01L1056.18 1102.01ZM1081.02 1082.81L1075.02 1085.21L1075.02 1084.21L1081.02 1081.81ZM1076.02 1084.51L1073.02 1087.51L1073.02 1086.51L1076.02 1083.51ZM1074.02 1086.01L1074.02 1089.01L1073.02 1089.01L1073.02 1086.01ZM1074.14 1088.01L1072.89 1093.01L1071.89 1093.01L1073.14 1088.01ZM1072.89 1092.01L1074.14 1097.01L1073.14 1097.01L1071.89 1092.01ZM1073.89 1096.01L1075.14 1101.01L1074.14 1101.01L1072.89 1096.01ZM1074.02 1099.64L1079.02 1103.39L1079.02 1104.39L1074.02 1100.64ZM1078.02 1103.01L1083.02 1103.01L1083.02 1104.01L1078.02 1104.01ZM1082.02 1103.39L1087.02 1099.64L1087.02 1100.64L1082.02 1104.39ZM1085.68 1101.01L1088.35 1097.01L1089.35 1097.01L1086.68 1101.01ZM1087.89 1098.01L1089.14 1093.01L1090.14 1093.01L1088.89 1098.01ZM1089.12 1094.01L1087.92 1088.01L1088.92 1088.01L1090.12 1094.01ZM1088.18 1089.01L1086.85 1085.01L1087.85 1085.01L1089.18 1089.01ZM1088.02 1086.35L1084.02 1083.68L1084.02 1082.68L1088.02 1085.35ZM1085.02 1084.14L1080.02 1082.89L1080.02 1081.89L1085.02 1083.14ZM1082.02 1096.51L1089.02 1103.51L1089.02 1104.51L1082.02 1097.51ZM1095.02 1083.01L1095.02 1104.01L1094.02 1104.01L1094.02 1083.01ZM1094.02 1103.01L1107.02 1103.01L1107.02 1104.01L1094.02 1104.01ZM1109.02 1093.01L1122.02 1093.01L1122.02 1094.01L1109.02 1094.01ZM1125.02 1083.01L1140.02 1083.01L1140.02 1084.01L1125.02 1084.01ZM1133.02 1083.01L1133.02 1104.01L1132.02 1104.01L1132.02 1083.01ZM1142.02 1091.31L1148.02 1087.71L1148.02 1088.71L1142.02 1092.31ZM1147.02 1087.61L1153.02 1092.41L1153.02 1093.41L1147.02 1088.61ZM1153.02 1092.01L1153.02 1104.01L1152.02 1104.01L1152.02 1092.01ZM1152.02 1103.01L1154.02 1103.01L1154.02 1104.01L1152.02 1104.01ZM1153.02 1094.89L1144.02 1097.14L1144.02 1096.14L1153.02 1093.89ZM1145.35 1096.01L1142.68 1100.01L1141.68 1100.01L1144.35 1096.01ZM1142.64 1099.01L1146.39 1104.01L1145.39 1104.01L1141.64 1099.01ZM1145.02 1103.26L1150.02 1100.76L1150.02 1101.76L1145.02 1104.26ZM1149.02 1101.18L1153.02 1099.85L1153.02 1100.85L1149.02 1102.18ZM1160.02 1083.01L1160.02 1104.01L1159.02 1104.01L1159.02 1083.01ZM1159.02 1091.21L1165.02 1088.81L1165.02 1089.81L1159.02 1092.21ZM1164.02 1088.76L1169.02 1091.26L1169.02 1092.26L1164.02 1089.76ZM1168.82 1091.01L1171.22 1097.01L1170.22 1097.01L1167.82 1091.01ZM1171.22 1096.01L1168.82 1102.01L1167.82 1102.01L1170.22 1096.01ZM1169.02 1101.76L1164.02 1104.26L1164.02 1103.26L1169.02 1100.76ZM1165.02 1104.26L1160.02 1101.76L1160.02 1100.76L1165.02 1103.26ZM1176.02 1083.01L1176.02 1104.01L1175.02 1104.01L1175.02 1083.01ZM1180.02 1096.01L1192.02 1096.01L1192.02 1097.01L1180.02 1097.01ZM1191.1 1097.01L1190.43 1093.01L1191.43 1093.01L1192.1 1097.01ZM1190.92 1094.01L1188.12 1090.51L1189.12 1090.51L1191.92 1094.01ZM1189.52 1091.73L1185.02 1089.8L1185.02 1088.8L1189.52 1090.73ZM1186.02 1089.8L1181.52 1091.73L1181.52 1090.73L1186.02 1088.8ZM1182.82 1090.51L1180.72 1094.01L1179.72 1094.01L1181.82 1090.51ZM1181.02 1093.01L1181.02 1099.51L1180.02 1099.51L1180.02 1093.01ZM1180.82 1098.51L1182.22 1102.01L1181.22 1102.01L1179.82 1098.51ZM1181.02 1100.61L1184.52 1103.41L1184.52 1104.41L1181.02 1101.61ZM1183.52 1103.01L1187.52 1103.01L1187.52 1104.01L1183.52 1104.01ZM1186.52 1103.26L1190.52 1101.26L1190.52 1102.26L1186.52 1104.26ZM1189.52 1102.01L1192.02 1099.51L1192.02 1100.51L1189.52 1103.01ZM1754.02 1085.01L1754.02 1106.01L1753.02 1106.01L1753.02 1085.01ZM1768.02 1085.01L1768.02 1106.01L1767.02 1106.01L1767.02 1085.01ZM1753.02 1094.01L1768.02 1094.01L1768.02 1095.01L1753.02 1095.01ZM1773.02 1106.01L1773.02 1085.01L1774.02 1085.01L1774.02 1106.01ZM1773.02 1085.01L1781.02 1085.01L1781.02 1086.01L1773.02 1086.01ZM1780.02 1084.85L1784.02 1086.18L1784.02 1087.18L1780.02 1085.85ZM1783.02 1085.51L1786.02 1088.51L1786.02 1089.51L1783.02 1086.51ZM1785.85 1088.01L1787.18 1092.01L1786.18 1092.01L1784.85 1088.01ZM1787.27 1091.01L1785.77 1094.01L1784.77 1094.01L1786.27 1091.01ZM1786.27 1093.01L1784.77 1096.01L1783.77 1096.01L1785.27 1093.01ZM1785.02 1095.68L1781.02 1098.35L1781.02 1097.35L1785.02 1094.68ZM1782.02 1098.01L1773.02 1098.01L1773.02 1097.01L1782.02 1097.01ZM1792.02 1106.01L1792.02 1085.01L1793.02 1085.01L1793.02 1106.01ZM1792.02 1085.01L1800.02 1085.01L1800.02 1086.01L1792.02 1086.01ZM1799.02 1084.76L1804.02 1087.26L1804.02 1088.26L1799.02 1085.76ZM1803.68 1087.01L1806.35 1091.01L1805.35 1091.01L1802.68 1087.01ZM1805.92 1090.01L1807.12 1096.01L1806.12 1096.01L1804.92 1090.01ZM1807.12 1095.01L1805.92 1101.01L1804.92 1101.01L1806.12 1095.01ZM1806.35 1100.01L1803.68 1104.01L1802.68 1104.01L1805.35 1100.01ZM1804.02 1103.76L1799.02 1106.26L1799.02 1105.26L1804.02 1102.76ZM1800.02 1106.01L1792.02 1106.01L1792.02 1105.01L1800.02 1105.01ZM1811.02 1106.01L1811.02 1085.01L1812.02 1085.01L1812.02 1106.01ZM1811.02 1085.01L1821.02 1085.01L1821.02 1086.01L1811.02 1086.01ZM1820.02 1084.64L1825.02 1088.39L1825.02 1089.39L1820.02 1085.64ZM1825.02 1088.01L1825.02 1092.01L1824.02 1092.01L1824.02 1088.01ZM1825.02 1091.51L1821.02 1095.51L1821.02 1094.51L1825.02 1090.51ZM1822.02 1095.01L1811.02 1095.01L1811.02 1094.01L1822.02 1094.01ZM1821.64 1094.01L1825.39 1099.01L1824.39 1099.01L1820.64 1094.01ZM1824.77 1098.01L1826.27 1101.01L1825.27 1101.01L1823.77 1098.01ZM1826.18 1100.01L1824.85 1104.01L1823.85 1104.01L1825.18 1100.01ZM1825.02 1103.68L1821.02 1106.35L1821.02 1105.35L1825.02 1102.68ZM1822.02 1106.01L1811.02 1106.01L1811.02 1105.01L1822.02 1105.01ZM1844.02 1086.01L1831.02 1086.01L1831.02 1085.01L1844.02 1085.01ZM1832.02 1085.01L1832.02 1106.01L1831.02 1106.01L1831.02 1085.01ZM1831.02 1105.01L1845.02 1105.01L1845.02 1106.01L1831.02 1106.01ZM1831.02 1094.01L1844.02 1094.01L1844.02 1095.01L1831.02 1095.01ZM1849.02 1095.01L1862.02 1095.01L1862.02 1096.01L1849.02 1096.01ZM1880.02 1086.01L1867.02 1086.01L1867.02 1085.01L1880.02 1085.01ZM1868.02 1085.01L1868.02 1106.01L1867.02 1106.01L1867.02 1085.01ZM1867.02 1095.01L1879.02 1095.01L1879.02 1096.01L1867.02 1096.01ZM1885.02 1091.01L1885.02 1106.01L1884.02 1106.01L1884.02 1091.01ZM1891.02 1085.01L1891.02 1106.01L1890.02 1106.01L1890.02 1085.01ZM1896.02 1098.01L1908.02 1098.01L1908.02 1099.01L1896.02 1099.01ZM1907.1 1099.01L1906.43 1095.01L1907.43 1095.01L1908.1 1099.01ZM1906.92 1096.01L1904.12 1092.51L1905.12 1092.51L1907.92 1096.01ZM1905.52 1093.73L1901.02 1091.8L1901.02 1090.8L1905.52 1092.73ZM1902.02 1091.8L1897.52 1093.73L1897.52 1092.73L1902.02 1090.8ZM1898.82 1092.51L1896.72 1096.01L1895.72 1096.01L1897.82 1092.51ZM1897.02 1095.01L1897.02 1101.51L1896.02 1101.51L1896.02 1095.01ZM1896.82 1100.51L1898.22 1104.01L1897.22 1104.01L1895.82 1100.51ZM1897.02 1102.61L1900.52 1105.41L1900.52 1106.41L1897.02 1103.61ZM1899.52 1105.01L1903.52 1105.01L1903.52 1106.01L1899.52 1106.01ZM1902.52 1105.26L1906.52 1103.26L1906.52 1104.26L1902.52 1106.26ZM1905.52 1104.01L1908.02 1101.51L1908.02 1102.51L1905.52 1105.01ZM1884 1085h1v2h-1zM697.02 1478.01L697.02 1457.01L698.02 1457.01L698.02 1478.01ZM697.02 1457.01L708.02 1457.01L708.02 1458.01L697.02 1458.01ZM707.02 1456.76L710.02 1458.26L710.02 1459.26L707.02 1457.76ZM709.85 1458.01L711.18 1462.01L710.18 1462.01L708.85 1458.01ZM711.18 1461.01L709.85 1465.01L708.85 1465.01L710.18 1461.01ZM710.27 1464.01L708.77 1467.01L707.77 1467.01L709.27 1464.01ZM709.02 1466.51L707.02 1468.51L707.02 1467.51L709.02 1465.51ZM708.02 1468.01L697.02 1468.01L697.02 1467.01L708.02 1467.01ZM707.02 1466.51L710.02 1469.51L710.02 1470.51L707.02 1467.51ZM709.92 1469.01L711.12 1475.01L710.12 1475.01L708.92 1469.01ZM710.85 1474.01L712.18 1478.01L711.18 1478.01L709.85 1474.01ZM716.02 1470.01L728.02 1470.01L728.02 1471.01L716.02 1471.01ZM727.1 1471.01L726.43 1467.01L727.43 1467.01L728.1 1471.01ZM726.92 1468.01L724.12 1464.51L725.12 1464.51L727.92 1468.01ZM725.52 1465.73L721.02 1463.8L721.02 1462.8L725.52 1464.73ZM722.02 1463.8L717.52 1465.73L717.52 1464.73L722.02 1462.8ZM718.82 1464.51L716.72 1468.01L715.72 1468.01L717.82 1464.51ZM717.02 1467.01L717.02 1473.51L716.02 1473.51L716.02 1467.01ZM716.82 1472.51L718.22 1476.01L717.22 1476.01L715.82 1472.51ZM717.02 1474.61L720.52 1477.41L720.52 1478.41L717.02 1475.61ZM719.52 1477.01L723.52 1477.01L723.52 1478.01L719.52 1478.01ZM722.52 1477.26L726.52 1475.26L726.52 1476.26L722.52 1478.26ZM725.52 1476.01L728.02 1473.51L728.02 1474.51L725.52 1477.01ZM743.42 1467.01L740.62 1463.51L741.62 1463.51L744.42 1467.01ZM742.02 1464.58L737.52 1463.94L737.52 1462.94L742.02 1463.58ZM738.52 1463.76L733.52 1466.26L733.52 1465.26L738.52 1462.76ZM734.82 1465.01L732.72 1468.51L731.72 1468.51L733.82 1465.01ZM733.02 1467.51L733.02 1472.01L732.02 1472.01L732.02 1467.51ZM732.89 1471.01L734.14 1476.01L733.14 1476.01L731.89 1471.01ZM733.02 1474.73L737.52 1477.3L737.52 1478.3L733.02 1475.73ZM736.52 1477.01L740.02 1477.01L740.02 1478.01L736.52 1478.01ZM739.02 1477.31L742.52 1475.21L742.52 1476.21L739.02 1478.31ZM741.25 1476.51L743.28 1472.71L744.28 1472.71L742.25 1476.51ZM753.02 1463.8L748.52 1465.73L748.52 1464.73L753.02 1462.8ZM749.92 1464.51L747.12 1468.01L746.12 1468.01L748.92 1464.51ZM747.6 1467.01L746.93 1471.01L745.93 1471.01L746.6 1467.01ZM746.92 1470.01L747.62 1473.51L746.62 1473.51L745.92 1470.01ZM747.18 1472.51L749.85 1476.51L748.85 1476.51L746.18 1472.51ZM748.52 1475.3L753.02 1477.23L753.02 1478.23L748.52 1476.3ZM752.02 1477.23L756.52 1475.3L756.52 1476.3L752.02 1478.23ZM755.18 1476.51L757.85 1472.51L758.85 1472.51L756.18 1476.51ZM757.42 1473.51L758.12 1470.01L759.12 1470.01L758.42 1473.51ZM758.1 1471.01L757.43 1467.01L758.43 1467.01L759.1 1471.01ZM757.92 1468.01L755.12 1464.51L756.12 1464.51L758.92 1468.01ZM756.52 1465.73L752.02 1463.8L752.02 1462.8L756.52 1464.73ZM766.02 1463.01L766.02 1478.01L765.02 1478.01L765.02 1463.01ZM765.02 1466.35L769.02 1463.68L769.02 1464.68L765.02 1467.35ZM768.02 1464.26L771.02 1462.76L771.02 1463.76L768.02 1465.26ZM785.02 1457.01L785.02 1478.01L784.02 1478.01L784.02 1457.01ZM785.02 1467.51L782.02 1464.51L782.02 1463.51L785.02 1466.51ZM783.02 1465.14L778.02 1463.89L778.02 1462.89L783.02 1464.14ZM779.02 1463.85L775.02 1465.18L775.02 1464.18L779.02 1462.85ZM776.27 1464.01L773.77 1469.01L772.77 1469.01L775.27 1464.01ZM774.02 1468.01L774.02 1473.01L773.02 1473.01L773.02 1468.01ZM773.85 1472.01L775.18 1476.01L774.18 1476.01L772.85 1472.01ZM774.02 1474.76L779.02 1477.26L779.02 1478.26L774.02 1475.76ZM778.02 1477.14L783.02 1475.89L783.02 1476.89L778.02 1478.14ZM781.68 1477.01L784.35 1473.01L785.35 1473.01L782.68 1477.01ZM1379.02 1457.01L1379.02 1478.01L1378.02 1478.01L1378.02 1457.01ZM1393.02 1457.01L1393.02 1478.01L1392.02 1478.01L1392.02 1457.01ZM1378.02 1466.01L1393.02 1466.01L1393.02 1467.01L1378.02 1467.01ZM1399.02 1478.01L1399.02 1457.01L1400.02 1457.01L1400.02 1478.01ZM1399.02 1457.01L1407.02 1457.01L1407.02 1458.01L1399.02 1458.01ZM1406.02 1456.85L1410.02 1458.18L1410.02 1459.18L1406.02 1457.85ZM1409.02 1457.51L1412.02 1460.51L1412.02 1461.51L1409.02 1458.51ZM1411.85 1460.01L1413.18 1464.01L1412.18 1464.01L1410.85 1460.01ZM1413.27 1463.01L1411.77 1466.01L1410.77 1466.01L1412.27 1463.01ZM1412.27 1465.01L1410.77 1468.01L1409.77 1468.01L1411.27 1465.01ZM1411.02 1467.68L1407.02 1470.35L1407.02 1469.35L1411.02 1466.68ZM1408.02 1470.01L1399.02 1470.01L1399.02 1469.01L1408.02 1469.01ZM1428.35 1461.01L1425.68 1457.01L1426.68 1457.01L1429.35 1461.01ZM1427.02 1458.01L1420.02 1458.01L1420.02 1457.01L1427.02 1457.01ZM1421.02 1457.51L1419.02 1459.51L1419.02 1458.51L1421.02 1456.51ZM1420.02 1458.51L1417.02 1461.51L1417.02 1460.51L1420.02 1457.51ZM1418.02 1460.01L1418.02 1464.01L1417.02 1464.01L1417.02 1460.01ZM1417.77 1463.01L1419.27 1466.01L1418.27 1466.01L1416.77 1463.01ZM1418.02 1464.76L1423.02 1467.26L1423.02 1468.26L1418.02 1465.76ZM1422.02 1467.01L1426.02 1467.01L1426.02 1468.01L1422.02 1468.01ZM1425.02 1466.68L1429.02 1469.35L1429.02 1470.35L1425.02 1467.68ZM1429.02 1469.01L1429.02 1475.01L1428.02 1475.01L1428.02 1469.01ZM1429.02 1474.68L1425.02 1477.35L1425.02 1476.35L1429.02 1473.68ZM1426.02 1476.51L1423.02 1479.51L1423.02 1478.51L1426.02 1475.51ZM1424.02 1479.01L1421.02 1479.01L1421.02 1478.01L1424.02 1478.01ZM1422.02 1479.51L1419.02 1476.51L1419.02 1475.51L1422.02 1478.51ZM1420.02 1477.26L1417.02 1475.76L1417.02 1474.76L1420.02 1476.26ZM1417.18 1476.01L1415.85 1472.01L1416.85 1472.01L1418.18 1476.01ZM1443.02 1456.81L1437.02 1459.21L1437.02 1458.21L1443.02 1455.81ZM1438.02 1458.51L1435.02 1461.51L1435.02 1460.51L1438.02 1457.51ZM1436.02 1460.01L1436.02 1463.01L1435.02 1463.01L1435.02 1460.01ZM1436.14 1462.01L1434.89 1467.01L1433.89 1467.01L1435.14 1462.01ZM1434.89 1466.01L1436.14 1471.01L1435.14 1471.01L1433.89 1466.01ZM1435.89 1470.01L1437.14 1475.01L1436.14 1475.01L1434.89 1470.01ZM1436.02 1473.64L1441.02 1477.39L1441.02 1478.39L1436.02 1474.64ZM1440.02 1477.01L1445.02 1477.01L1445.02 1478.01L1440.02 1478.01ZM1444.02 1477.39L1449.02 1473.64L1449.02 1474.64L1444.02 1478.39ZM1447.68 1475.01L1450.35 1471.01L1451.35 1471.01L1448.68 1475.01ZM1449.89 1472.01L1451.14 1467.01L1452.14 1467.01L1450.89 1472.01ZM1451.12 1468.01L1449.92 1462.01L1450.92 1462.01L1452.12 1468.01ZM1450.18 1463.01L1448.85 1459.01L1449.85 1459.01L1451.18 1463.01ZM1450.02 1460.35L1446.02 1457.68L1446.02 1456.68L1450.02 1459.35ZM1447.02 1458.14L1442.02 1456.89L1442.02 1455.89L1447.02 1457.14ZM1444.02 1470.51L1451.02 1477.51L1451.02 1478.51L1444.02 1471.51ZM1457.02 1457.01L1457.02 1478.01L1456.02 1478.01L1456.02 1457.01ZM1456.02 1477.01L1469.02 1477.01L1469.02 1478.01L1456.02 1478.01ZM1471.02 1467.01L1484.02 1467.01L1484.02 1468.01L1471.02 1468.01ZM1490.02 1457.01L1490.02 1478.01L1489.02 1478.01L1489.02 1457.01ZM1497.02 1463.01L1497.02 1478.01L1496.02 1478.01L1496.02 1463.01ZM1496.02 1466.51L1500.02 1462.51L1500.02 1463.51L1496.02 1467.51ZM1499.02 1463.01L1504.02 1463.01L1504.02 1464.01L1499.02 1464.01ZM1503.68 1463.01L1506.35 1467.01L1505.35 1467.01L1502.68 1463.01ZM1506.02 1466.01L1506.02 1478.01L1505.02 1478.01L1505.02 1466.01ZM1521.02 1457.01L1521.02 1478.01L1520.02 1478.01L1520.02 1457.01ZM1521.02 1467.51L1518.02 1464.51L1518.02 1463.51L1521.02 1466.51ZM1519.02 1465.14L1514.02 1463.89L1514.02 1462.89L1519.02 1464.14ZM1515.02 1463.85L1511.02 1465.18L1511.02 1464.18L1515.02 1462.85ZM1512.27 1464.01L1509.77 1469.01L1508.77 1469.01L1511.27 1464.01ZM1510.02 1468.01L1510.02 1473.01L1509.02 1473.01L1509.02 1468.01ZM1509.85 1472.01L1511.18 1476.01L1510.18 1476.01L1508.85 1472.01ZM1510.02 1474.76L1515.02 1477.26L1515.02 1478.26L1510.02 1475.76ZM1514.02 1477.14L1519.02 1475.89L1519.02 1476.89L1514.02 1478.14ZM1517.68 1477.01L1520.35 1473.01L1521.35 1473.01L1518.68 1477.01ZM1525.02 1470.01L1537.02 1470.01L1537.02 1471.01L1525.02 1471.01ZM1536.1 1471.01L1535.43 1467.01L1536.43 1467.01L1537.1 1471.01ZM1535.92 1468.01L1533.12 1464.51L1534.12 1464.51L1536.92 1468.01ZM1534.52 1465.73L1530.02 1463.8L1530.02 1462.8L1534.52 1464.73ZM1531.02 1463.8L1526.52 1465.73L1526.52 1464.73L1531.02 1462.8ZM1527.82 1464.51L1525.72 1468.01L1524.72 1468.01L1526.82 1464.51ZM1526.02 1467.01L1526.02 1473.51L1525.02 1473.51L1525.02 1467.01ZM1525.82 1472.51L1527.22 1476.01L1526.22 1476.01L1524.82 1472.51ZM1526.02 1474.61L1529.52 1477.41L1529.52 1478.41L1526.02 1475.61ZM1528.52 1477.01L1532.52 1477.01L1532.52 1478.01L1528.52 1478.01ZM1531.52 1477.26L1535.52 1475.26L1535.52 1476.26L1531.52 1478.26ZM1534.52 1476.01L1537.02 1473.51L1537.02 1474.51L1534.52 1477.01ZM1541.62 1463.01L1553.41 1478.01L1552.41 1478.01L1540.62 1463.01ZM1553.41 1463.01L1541.62 1478.01L1540.62 1478.01L1552.41 1463.01ZM704.02 1822.01L691.02 1822.01L691.02 1821.01L704.02 1821.01ZM692.02 1821.01L692.02 1842.01L691.02 1842.01L691.02 1821.01ZM691.02 1841.01L705.02 1841.01L705.02 1842.01L691.02 1842.01ZM691.02 1830.01L704.02 1830.01L704.02 1831.01L691.02 1831.01ZM711.02 1821.01L711.02 1842.01L710.02 1842.01L710.02 1821.01ZM716.02 1834.01L728.02 1834.01L728.02 1835.01L716.02 1835.01ZM727.1 1835.01L726.43 1831.01L727.43 1831.01L728.1 1835.01ZM726.92 1832.01L724.12 1828.51L725.12 1828.51L727.92 1832.01ZM725.52 1829.73L721.02 1827.8L721.02 1826.8L725.52 1828.73ZM722.02 1827.8L717.52 1829.73L717.52 1828.73L722.02 1826.8ZM718.82 1828.51L716.72 1832.01L715.72 1832.01L717.82 1828.51ZM717.02 1831.01L717.02 1837.51L716.02 1837.51L716.02 1831.01ZM716.82 1836.51L718.22 1840.01L717.22 1840.01L715.82 1836.51ZM717.02 1838.61L720.52 1841.41L720.52 1842.41L717.02 1839.61ZM719.52 1841.01L723.52 1841.01L723.52 1842.01L719.52 1842.01ZM722.52 1841.26L726.52 1839.26L726.52 1840.26L722.52 1842.26ZM725.52 1840.01L728.02 1837.51L728.02 1838.51L725.52 1841.01ZM733.02 1827.01L733.02 1842.01L732.02 1842.01L732.02 1827.01ZM732.02 1830.39L737.02 1826.64L737.02 1827.64L732.02 1831.39ZM736.02 1826.85L740.02 1828.18L740.02 1829.18L736.02 1827.85ZM739.77 1828.01L741.27 1831.01L740.27 1831.01L738.77 1828.01ZM741.02 1830.01L741.02 1842.01L740.02 1842.01L740.02 1830.01ZM740.02 1830.39L745.02 1826.64L745.02 1827.64L740.02 1831.39ZM744.02 1826.76L747.02 1828.26L747.02 1829.26L744.02 1827.76ZM746.77 1828.01L748.27 1831.01L747.27 1831.01L745.77 1828.01ZM748.02 1830.01L748.02 1842.01L747.02 1842.01L747.02 1830.01ZM752.02 1834.01L764.02 1834.01L764.02 1835.01L752.02 1835.01ZM763.1 1835.01L762.43 1831.01L763.43 1831.01L764.1 1835.01ZM762.92 1832.01L760.12 1828.51L761.12 1828.51L763.92 1832.01ZM761.52 1829.73L757.02 1827.8L757.02 1826.8L761.52 1828.73ZM758.02 1827.8L753.52 1829.73L753.52 1828.73L758.02 1826.8ZM754.82 1828.51L752.72 1832.01L751.72 1832.01L753.82 1828.51ZM753.02 1831.01L753.02 1837.51L752.02 1837.51L752.02 1831.01ZM752.82 1836.51L754.22 1840.01L753.22 1840.01L751.82 1836.51ZM753.02 1838.61L756.52 1841.41L756.52 1842.41L753.02 1839.61ZM755.52 1841.01L759.52 1841.01L759.52 1842.01L755.52 1842.01ZM758.52 1841.26L762.52 1839.26L762.52 1840.26L758.52 1842.26ZM761.52 1840.01L764.02 1837.51L764.02 1838.51L761.52 1841.01ZM771.02 1827.01L771.02 1842.01L770.02 1842.01L770.02 1827.01ZM770.02 1830.51L774.02 1826.51L774.02 1827.51L770.02 1831.51ZM773.02 1827.01L778.02 1827.01L778.02 1828.01L773.02 1828.01ZM777.68 1827.01L780.35 1831.01L779.35 1831.01L776.68 1827.01ZM780.02 1830.01L780.02 1842.01L779.02 1842.01L779.02 1830.01ZM783.02 1827.01L791.02 1827.01L791.02 1828.01L783.02 1828.01ZM787.02 1821.01L787.02 1839.01L786.02 1839.01L786.02 1821.01ZM786.77 1838.01L788.27 1841.01L787.27 1841.01L785.77 1838.01ZM787.02 1839.76L790.02 1841.26L790.02 1842.26L787.02 1840.76ZM381.39 558.01L377.64 553.01L378.64 553.01L382.39 558.01ZM379.02 554.14L374.02 552.89L374.02 551.89L379.02 553.14ZM375.02 552.85L371.02 554.18L371.02 553.18L375.02 551.85ZM372.02 553.51L368.02 557.51L368.02 556.51L372.02 552.51ZM369.22 556.01L366.82 562.01L365.82 562.01L368.22 556.01ZM367.02 561.01L367.02 565.01L366.02 565.01L366.02 561.01ZM366.92 564.01L368.12 570.01L367.12 570.01L365.92 564.01ZM367.02 568.51L370.02 571.51L370.02 572.51L367.02 569.51ZM369.02 570.76L374.02 573.26L374.02 574.26L369.02 571.76ZM373.02 573.01L378.02 573.01L378.02 574.01L373.02 574.01ZM376.62 574.01L381.42 568.01L382.42 568.01L377.62 574.01ZM392.02 559.8L387.52 561.73L387.52 560.73L392.02 558.8ZM388.92 560.51L386.12 564.01L385.12 564.01L387.92 560.51ZM386.6 563.01L385.93 567.01L384.93 567.01L385.6 563.01ZM385.92 566.01L386.62 569.51L385.62 569.51L384.92 566.01ZM386.18 568.51L388.85 572.51L387.85 572.51L385.18 568.51ZM387.52 571.3L392.02 573.23L392.02 574.23L387.52 572.3ZM391.02 573.23L395.52 571.3L395.52 572.3L391.02 574.23ZM394.18 572.51L396.85 568.51L397.85 568.51L395.18 572.51ZM396.42 569.51L397.12 566.01L398.12 566.01L397.42 569.51ZM397.1 567.01L396.43 563.01L397.43 563.01L398.1 567.01ZM396.92 564.01L394.12 560.51L395.12 560.51L397.92 564.01ZM395.52 561.73L391.02 559.8L391.02 558.8L395.52 560.73ZM403.02 559.01L403.02 574.01L402.02 574.01L402.02 559.01ZM402.02 562.51L406.02 558.51L406.02 559.51L402.02 563.51ZM405.02 559.01L410.02 559.01L410.02 560.01L405.02 560.01ZM409.68 559.01L412.35 563.01L411.35 563.01L408.68 559.01ZM412.02 562.01L412.02 574.01L411.02 574.01L411.02 562.01ZM417.02 559.01L425.02 559.01L425.02 560.01L417.02 560.01ZM421.02 553.01L421.02 571.01L420.02 571.01L420.02 553.01ZM420.77 570.01L422.27 573.01L421.27 573.01L419.77 570.01ZM421.02 571.76L424.02 573.26L424.02 574.26L421.02 572.76ZM428.02 561.31L434.02 557.71L434.02 558.71L428.02 562.31ZM433.02 557.61L439.02 562.41L439.02 563.41L433.02 558.61ZM439.02 562.01L439.02 574.01L438.02 574.01L438.02 562.01ZM438.02 573.01L440.02 573.01L440.02 574.01L438.02 574.01ZM439.02 564.89L430.02 567.14L430.02 566.14L439.02 563.89ZM431.35 566.01L428.68 570.01L427.68 570.01L430.35 566.01ZM428.64 569.01L432.39 574.01L431.39 574.01L427.64 569.01ZM431.02 573.26L436.02 570.76L436.02 571.76L431.02 574.26ZM435.02 571.18L439.02 569.85L439.02 570.85L435.02 572.18ZM446.02 559.01L446.02 574.01L445.02 574.01L445.02 559.01ZM452.02 559.01L452.02 574.01L451.02 574.01L451.02 559.01ZM451.02 562.51L455.02 558.51L455.02 559.51L451.02 563.51ZM454.02 559.01L459.02 559.01L459.02 560.01L454.02 560.01ZM458.68 559.01L461.35 563.01L460.35 563.01L457.68 559.01ZM461.02 562.01L461.02 574.01L460.02 574.01L460.02 562.01ZM476.02 563.51L471.02 558.51L471.02 557.51L476.02 562.51ZM472.02 558.89L467.02 560.14L467.02 559.14L472.02 557.89ZM468.02 559.01L468.02 564.01L467.02 564.01L467.02 559.01ZM467.02 562.76L470.02 564.26L470.02 565.26L467.02 563.76ZM469.02 563.7L478.02 569.33L478.02 570.33L469.02 564.7ZM478.02 569.01L478.02 571.01L477.02 571.01L477.02 569.01ZM478.02 570.51L474.02 574.51L474.02 573.51L478.02 569.51ZM475.02 574.01L469.02 574.01L469.02 573.01L475.02 573.01ZM469.39 574.01L465.64 569.01L466.64 569.01L470.39 574.01ZM445 553h1v2h-1zM1362.39 558.01L1358.64 553.01L1359.64 553.01L1363.39 558.01ZM1360.02 554.14L1355.02 552.89L1355.02 551.89L1360.02 553.14ZM1356.02 552.85L1352.02 554.18L1352.02 553.18L1356.02 551.85ZM1353.02 553.51L1349.02 557.51L1349.02 556.51L1353.02 552.51ZM1350.22 556.01L1347.82 562.01L1346.82 562.01L1349.22 556.01ZM1348.02 561.01L1348.02 565.01L1347.02 565.01L1347.02 561.01ZM1347.92 564.01L1349.12 570.01L1348.12 570.01L1346.92 564.01ZM1348.02 568.51L1351.02 571.51L1351.02 572.51L1348.02 569.51ZM1350.02 570.76L1355.02 573.26L1355.02 574.26L1350.02 571.76ZM1354.02 573.01L1359.02 573.01L1359.02 574.01L1354.02 574.01ZM1357.62 574.01L1362.42 568.01L1363.42 568.01L1358.62 574.01ZM1374.02 559.8L1369.52 561.73L1369.52 560.73L1374.02 558.8ZM1370.92 560.51L1368.12 564.01L1367.12 564.01L1369.92 560.51ZM1368.6 563.01L1367.93 567.01L1366.93 567.01L1367.6 563.01ZM1367.92 566.01L1368.62 569.51L1367.62 569.51L1366.92 566.01ZM1368.18 568.51L1370.85 572.51L1369.85 572.51L1367.18 568.51ZM1369.52 571.3L1374.02 573.23L1374.02 574.23L1369.52 572.3ZM1373.02 573.23L1377.52 571.3L1377.52 572.3L1373.02 574.23ZM1376.18 572.51L1378.85 568.51L1379.85 568.51L1377.18 572.51ZM1378.42 569.51L1379.12 566.01L1380.12 566.01L1379.42 569.51ZM1379.1 567.01L1378.43 563.01L1379.43 563.01L1380.1 567.01ZM1378.92 564.01L1376.12 560.51L1377.12 560.51L1379.92 564.01ZM1377.52 561.73L1373.02 559.8L1373.02 558.8L1377.52 560.73ZM1385.02 559.01L1385.02 574.01L1384.02 574.01L1384.02 559.01ZM1384.02 562.51L1388.02 558.51L1388.02 559.51L1384.02 563.51ZM1387.02 559.01L1392.02 559.01L1392.02 560.01L1387.02 560.01ZM1391.68 559.01L1394.35 563.01L1393.35 563.01L1390.68 559.01ZM1394.02 562.01L1394.02 574.01L1393.02 574.01L1393.02 562.01ZM1399.02 559.01L1407.02 559.01L1407.02 560.01L1399.02 560.01ZM1403.02 553.01L1403.02 571.01L1402.02 571.01L1402.02 553.01ZM1402.77 570.01L1404.27 573.01L1403.27 573.01L1401.77 570.01ZM1403.02 571.76L1406.02 573.26L1406.02 574.26L1403.02 572.76ZM1410.02 561.31L1416.02 557.71L1416.02 558.71L1410.02 562.31ZM1415.02 557.61L1421.02 562.41L1421.02 563.41L1415.02 558.61ZM1421.02 562.01L1421.02 574.01L1420.02 574.01L1420.02 562.01ZM1420.02 573.01L1422.02 573.01L1422.02 574.01L1420.02 574.01ZM1421.02 564.89L1412.02 567.14L1412.02 566.14L1421.02 563.89ZM1413.35 566.01L1410.68 570.01L1409.68 570.01L1412.35 566.01ZM1410.64 569.01L1414.39 574.01L1413.39 574.01L1409.64 569.01ZM1413.02 573.26L1418.02 570.76L1418.02 571.76L1413.02 574.26ZM1417.02 571.18L1421.02 569.85L1421.02 570.85L1417.02 572.18ZM1428.02 559.01L1428.02 574.01L1427.02 574.01L1427.02 559.01ZM1434.02 559.01L1434.02 574.01L1433.02 574.01L1433.02 559.01ZM1433.02 562.51L1437.02 558.51L1437.02 559.51L1433.02 563.51ZM1436.02 559.01L1441.02 559.01L1441.02 560.01L1436.02 560.01ZM1440.68 559.01L1443.35 563.01L1442.35 563.01L1439.68 559.01ZM1443.02 562.01L1443.02 574.01L1442.02 574.01L1442.02 562.01ZM1458.02 563.51L1453.02 558.51L1453.02 557.51L1458.02 562.51ZM1454.02 558.89L1449.02 560.14L1449.02 559.14L1454.02 557.89ZM1450.02 559.01L1450.02 564.01L1449.02 564.01L1449.02 559.01ZM1449.02 562.76L1452.02 564.26L1452.02 565.26L1449.02 563.76ZM1451.02 563.7L1460.02 569.33L1460.02 570.33L1451.02 564.7ZM1460.02 569.01L1460.02 571.01L1459.02 571.01L1459.02 569.01ZM1460.02 570.51L1456.02 574.51L1456.02 573.51L1460.02 569.51ZM1457.02 574.01L1451.02 574.01L1451.02 573.01L1457.02 573.01ZM1451.39 574.01L1447.64 569.01L1448.64 569.01L1452.39 574.01ZM1427 553h1v2h-1zM496.39 933.01L492.64 928.01L493.64 928.01L497.39 933.01ZM494.02 929.14L489.02 927.89L489.02 926.89L494.02 928.14ZM490.02 927.85L486.02 929.18L486.02 928.18L490.02 926.85ZM487.02 928.51L483.02 932.51L483.02 931.51L487.02 927.51ZM484.22 931.01L481.82 937.01L480.82 937.01L483.22 931.01ZM482.02 936.01L482.02 940.01L481.02 940.01L481.02 936.01ZM481.92 939.01L483.12 945.01L482.12 945.01L480.92 939.01ZM482.02 943.51L485.02 946.51L485.02 947.51L482.02 944.51ZM484.02 945.76L489.02 948.26L489.02 949.26L484.02 946.76ZM488.02 948.01L493.02 948.01L493.02 949.01L488.02 949.01ZM491.62 949.01L496.42 943.01L497.42 943.01L492.62 949.01ZM507.02 934.8L502.52 936.73L502.52 935.73L507.02 933.8ZM503.92 935.51L501.12 939.01L500.12 939.01L502.92 935.51ZM501.6 938.01L500.93 942.01L499.93 942.01L500.6 938.01ZM500.92 941.01L501.62 944.51L500.62 944.51L499.92 941.01ZM501.18 943.51L503.85 947.51L502.85 947.51L500.18 943.51ZM502.52 946.3L507.02 948.23L507.02 949.23L502.52 947.3ZM506.02 948.23L510.52 946.3L510.52 947.3L506.02 949.23ZM509.18 947.51L511.85 943.51L512.85 943.51L510.18 947.51ZM511.42 944.51L512.12 941.01L513.12 941.01L512.42 944.51ZM512.1 942.01L511.43 938.01L512.43 938.01L513.1 942.01ZM511.92 939.01L509.12 935.51L510.12 935.51L512.92 939.01ZM510.52 936.73L506.02 934.8L506.02 933.8L510.52 935.73ZM518.02 934.01L518.02 949.01L517.02 949.01L517.02 934.01ZM517.02 937.51L521.02 933.51L521.02 934.51L517.02 938.51ZM520.02 934.01L525.02 934.01L525.02 935.01L520.02 935.01ZM524.68 934.01L527.35 938.01L526.35 938.01L523.68 934.01ZM527.02 937.01L527.02 949.01L526.02 949.01L526.02 937.01ZM532.02 934.01L540.02 934.01L540.02 935.01L532.02 935.01ZM536.02 928.01L536.02 946.01L535.02 946.01L535.02 928.01ZM535.77 945.01L537.27 948.01L536.27 948.01L534.77 945.01ZM536.02 946.76L539.02 948.26L539.02 949.26L536.02 947.76ZM543.02 936.31L549.02 932.71L549.02 933.71L543.02 937.31ZM548.02 932.61L554.02 937.41L554.02 938.41L548.02 933.61ZM554.02 937.01L554.02 949.01L553.02 949.01L553.02 937.01ZM553.02 948.01L555.02 948.01L555.02 949.01L553.02 949.01ZM554.02 939.89L545.02 942.14L545.02 941.14L554.02 938.89ZM546.35 941.01L543.68 945.01L542.68 945.01L545.35 941.01ZM543.64 944.01L547.39 949.01L546.39 949.01L542.64 944.01ZM546.02 948.26L551.02 945.76L551.02 946.76L546.02 949.26ZM550.02 946.18L554.02 944.85L554.02 945.85L550.02 947.18ZM561.02 934.01L561.02 949.01L560.02 949.01L560.02 934.01ZM567.02 934.01L567.02 949.01L566.02 949.01L566.02 934.01ZM566.02 937.51L570.02 933.51L570.02 934.51L566.02 938.51ZM569.02 934.01L574.02 934.01L574.02 935.01L569.02 935.01ZM573.68 934.01L576.35 938.01L575.35 938.01L572.68 934.01ZM576.02 937.01L576.02 949.01L575.02 949.01L575.02 937.01ZM591.02 938.51L586.02 933.51L586.02 932.51L591.02 937.51ZM587.02 933.89L582.02 935.14L582.02 934.14L587.02 932.89ZM583.02 934.01L583.02 939.01L582.02 939.01L582.02 934.01ZM582.02 937.76L585.02 939.26L585.02 940.26L582.02 938.76ZM584.02 938.7L593.02 944.33L593.02 945.33L584.02 939.7ZM593.02 944.01L593.02 946.01L592.02 946.01L592.02 944.01ZM593.02 945.51L589.02 949.51L589.02 948.51L593.02 944.51ZM590.02 949.01L584.02 949.01L584.02 948.01L590.02 948.01ZM584.39 949.01L580.64 944.01L581.64 944.01L585.39 949.01ZM560 928h1v2h-1zM1105.39 933.01L1101.64 928.01L1102.64 928.01L1106.39 933.01ZM1103.02 929.14L1098.02 927.89L1098.02 926.89L1103.02 928.14ZM1099.02 927.85L1095.02 929.18L1095.02 928.18L1099.02 926.85ZM1096.02 928.51L1092.02 932.51L1092.02 931.51L1096.02 927.51ZM1093.22 931.01L1090.82 937.01L1089.82 937.01L1092.22 931.01ZM1091.02 936.01L1091.02 940.01L1090.02 940.01L1090.02 936.01ZM1090.92 939.01L1092.12 945.01L1091.12 945.01L1089.92 939.01ZM1091.02 943.51L1094.02 946.51L1094.02 947.51L1091.02 944.51ZM1093.02 945.76L1098.02 948.26L1098.02 949.26L1093.02 946.76ZM1097.02 948.01L1102.02 948.01L1102.02 949.01L1097.02 949.01ZM1100.62 949.01L1105.42 943.01L1106.42 943.01L1101.62 949.01ZM1117.02 934.8L1112.52 936.73L1112.52 935.73L1117.02 933.8ZM1113.92 935.51L1111.12 939.01L1110.12 939.01L1112.92 935.51ZM1111.6 938.01L1110.93 942.01L1109.93 942.01L1110.6 938.01ZM1110.92 941.01L1111.62 944.51L1110.62 944.51L1109.92 941.01ZM1111.18 943.51L1113.85 947.51L1112.85 947.51L1110.18 943.51ZM1112.52 946.3L1117.02 948.23L1117.02 949.23L1112.52 947.3ZM1116.02 948.23L1120.52 946.3L1120.52 947.3L1116.02 949.23ZM1119.18 947.51L1121.85 943.51L1122.85 943.51L1120.18 947.51ZM1121.42 944.51L1122.12 941.01L1123.12 941.01L1122.42 944.51ZM1122.1 942.01L1121.43 938.01L1122.43 938.01L1123.1 942.01ZM1121.92 939.01L1119.12 935.51L1120.12 935.51L1122.92 939.01ZM1120.52 936.73L1116.02 934.8L1116.02 933.8L1120.52 935.73ZM1128.02 934.01L1128.02 949.01L1127.02 949.01L1127.02 934.01ZM1127.02 937.51L1131.02 933.51L1131.02 934.51L1127.02 938.51ZM1130.02 934.01L1135.02 934.01L1135.02 935.01L1130.02 935.01ZM1134.68 934.01L1137.35 938.01L1136.35 938.01L1133.68 934.01ZM1137.02 937.01L1137.02 949.01L1136.02 949.01L1136.02 937.01ZM1142.02 934.01L1150.02 934.01L1150.02 935.01L1142.02 935.01ZM1146.02 928.01L1146.02 946.01L1145.02 946.01L1145.02 928.01ZM1145.77 945.01L1147.27 948.01L1146.27 948.01L1144.77 945.01ZM1146.02 946.76L1149.02 948.26L1149.02 949.26L1146.02 947.76ZM1153.02 936.31L1159.02 932.71L1159.02 933.71L1153.02 937.31ZM1158.02 932.61L1164.02 937.41L1164.02 938.41L1158.02 933.61ZM1164.02 937.01L1164.02 949.01L1163.02 949.01L1163.02 937.01ZM1163.02 948.01L1165.02 948.01L1165.02 949.01L1163.02 949.01ZM1164.02 939.89L1155.02 942.14L1155.02 941.14L1164.02 938.89ZM1156.35 941.01L1153.68 945.01L1152.68 945.01L1155.35 941.01ZM1153.64 944.01L1157.39 949.01L1156.39 949.01L1152.64 944.01ZM1156.02 948.26L1161.02 945.76L1161.02 946.76L1156.02 949.26ZM1160.02 946.18L1164.02 944.85L1164.02 945.85L1160.02 947.18ZM1171.02 934.01L1171.02 949.01L1170.02 949.01L1170.02 934.01ZM1177.02 934.01L1177.02 949.01L1176.02 949.01L1176.02 934.01ZM1176.02 937.51L1180.02 933.51L1180.02 934.51L1176.02 938.51ZM1179.02 934.01L1184.02 934.01L1184.02 935.01L1179.02 935.01ZM1183.68 934.01L1186.35 938.01L1185.35 938.01L1182.68 934.01ZM1186.02 937.01L1186.02 949.01L1185.02 949.01L1185.02 937.01ZM1201.02 938.51L1196.02 933.51L1196.02 932.51L1201.02 937.51ZM1197.02 933.89L1192.02 935.14L1192.02 934.14L1197.02 932.89ZM1193.02 934.01L1193.02 939.01L1192.02 939.01L1192.02 934.01ZM1192.02 937.76L1195.02 939.26L1195.02 940.26L1192.02 938.76ZM1194.02 938.7L1203.02 944.33L1203.02 945.33L1194.02 939.7ZM1203.02 944.01L1203.02 946.01L1202.02 946.01L1202.02 944.01ZM1203.02 945.51L1199.02 949.51L1199.02 948.51L1203.02 944.51ZM1200.02 949.01L1194.02 949.01L1194.02 948.01L1200.02 948.01ZM1194.39 949.01L1190.64 944.01L1191.64 944.01L1195.39 949.01ZM1170 928h1v2h-1zM1815.39 933.01L1811.64 928.01L1812.64 928.01L1816.39 933.01ZM1813.02 929.14L1808.02 927.89L1808.02 926.89L1813.02 928.14ZM1809.02 927.85L1805.02 929.18L1805.02 928.18L1809.02 926.85ZM1806.02 928.51L1802.02 932.51L1802.02 931.51L1806.02 927.51ZM1803.22 931.01L1800.82 937.01L1799.82 937.01L1802.22 931.01ZM1801.02 936.01L1801.02 940.01L1800.02 940.01L1800.02 936.01ZM1800.92 939.01L1802.12 945.01L1801.12 945.01L1799.92 939.01ZM1801.02 943.51L1804.02 946.51L1804.02 947.51L1801.02 944.51ZM1803.02 945.76L1808.02 948.26L1808.02 949.26L1803.02 946.76ZM1807.02 948.01L1812.02 948.01L1812.02 949.01L1807.02 949.01ZM1810.62 949.01L1815.42 943.01L1816.42 943.01L1811.62 949.01ZM1827.02 934.8L1822.52 936.73L1822.52 935.73L1827.02 933.8ZM1823.92 935.51L1821.12 939.01L1820.12 939.01L1822.92 935.51ZM1821.6 938.01L1820.93 942.01L1819.93 942.01L1820.6 938.01ZM1820.92 941.01L1821.62 944.51L1820.62 944.51L1819.92 941.01ZM1821.18 943.51L1823.85 947.51L1822.85 947.51L1820.18 943.51ZM1822.52 946.3L1827.02 948.23L1827.02 949.23L1822.52 947.3ZM1826.02 948.23L1830.52 946.3L1830.52 947.3L1826.02 949.23ZM1829.18 947.51L1831.85 943.51L1832.85 943.51L1830.18 947.51ZM1831.42 944.51L1832.12 941.01L1833.12 941.01L1832.42 944.51ZM1832.1 942.01L1831.43 938.01L1832.43 938.01L1833.1 942.01ZM1831.92 939.01L1829.12 935.51L1830.12 935.51L1832.92 939.01ZM1830.52 936.73L1826.02 934.8L1826.02 933.8L1830.52 935.73ZM1838.02 934.01L1838.02 949.01L1837.02 949.01L1837.02 934.01ZM1837.02 937.51L1841.02 933.51L1841.02 934.51L1837.02 938.51ZM1840.02 934.01L1845.02 934.01L1845.02 935.01L1840.02 935.01ZM1844.68 934.01L1847.35 938.01L1846.35 938.01L1843.68 934.01ZM1847.02 937.01L1847.02 949.01L1846.02 949.01L1846.02 937.01ZM1852.02 934.01L1860.02 934.01L1860.02 935.01L1852.02 935.01ZM1856.02 928.01L1856.02 946.01L1855.02 946.01L1855.02 928.01ZM1855.77 945.01L1857.27 948.01L1856.27 948.01L1854.77 945.01ZM1856.02 946.76L1859.02 948.26L1859.02 949.26L1856.02 947.76ZM1863.02 936.31L1869.02 932.71L1869.02 933.71L1863.02 937.31ZM1868.02 932.61L1874.02 937.41L1874.02 938.41L1868.02 933.61ZM1874.02 937.01L1874.02 949.01L1873.02 949.01L1873.02 937.01ZM1873.02 948.01L1875.02 948.01L1875.02 949.01L1873.02 949.01ZM1874.02 939.89L1865.02 942.14L1865.02 941.14L1874.02 938.89ZM1866.35 941.01L1863.68 945.01L1862.68 945.01L1865.35 941.01ZM1863.64 944.01L1867.39 949.01L1866.39 949.01L1862.64 944.01ZM1866.02 948.26L1871.02 945.76L1871.02 946.76L1866.02 949.26ZM1870.02 946.18L1874.02 944.85L1874.02 945.85L1870.02 947.18ZM1881.02 934.01L1881.02 949.01L1880.02 949.01L1880.02 934.01ZM1887.02 934.01L1887.02 949.01L1886.02 949.01L1886.02 934.01ZM1886.02 937.51L1890.02 933.51L1890.02 934.51L1886.02 938.51ZM1889.02 934.01L1894.02 934.01L1894.02 935.01L1889.02 935.01ZM1893.68 934.01L1896.35 938.01L1895.35 938.01L1892.68 934.01ZM1896.02 937.01L1896.02 949.01L1895.02 949.01L1895.02 937.01ZM1911.02 938.51L1906.02 933.51L1906.02 932.51L1911.02 937.51ZM1907.02 933.89L1902.02 935.14L1902.02 934.14L1907.02 932.89ZM1903.02 934.01L1903.02 939.01L1902.02 939.01L1902.02 934.01ZM1902.02 937.76L1905.02 939.26L1905.02 940.26L1902.02 938.76ZM1904.02 938.7L1913.02 944.33L1913.02 945.33L1904.02 939.7ZM1913.02 944.01L1913.02 946.01L1912.02 946.01L1912.02 944.01ZM1913.02 945.51L1909.02 949.51L1909.02 948.51L1913.02 944.51ZM1910.02 949.01L1904.02 949.01L1904.02 948.01L1910.02 948.01ZM1904.39 949.01L1900.64 944.01L1901.64 944.01L1905.39 949.01ZM1880 928h1v2h-1zM1340.39 989.01L1336.64 984.01L1337.64 984.01L1341.39 989.01ZM1338.02 985.14L1333.02 983.89L1333.02 982.89L1338.02 984.14ZM1334.02 983.85L1330.02 985.18L1330.02 984.18L1334.02 982.85ZM1331.02 984.51L1327.02 988.51L1327.02 987.51L1331.02 983.51ZM1328.22 987.01L1325.82 993.01L1324.82 993.01L1327.22 987.01ZM1326.02 992.01L1326.02 996.01L1325.02 996.01L1325.02 992.01ZM1325.92 995.01L1327.12 1001.01L1326.12 1001.01L1324.92 995.01ZM1326.02 999.51L1329.02 1002.51L1329.02 1003.51L1326.02 1000.51ZM1328.02 1001.76L1333.02 1004.26L1333.02 1005.26L1328.02 1002.76ZM1332.02 1004.01L1337.02 1004.01L1337.02 1005.01L1332.02 1005.01ZM1335.62 1005.01L1340.42 999.01L1341.42 999.01L1336.62 1005.01ZM1352.02 990.8L1347.52 992.73L1347.52 991.73L1352.02 989.8ZM1348.92 991.51L1346.12 995.01L1345.12 995.01L1347.92 991.51ZM1346.6 994.01L1345.93 998.01L1344.93 998.01L1345.6 994.01ZM1345.92 997.01L1346.62 1000.51L1345.62 1000.51L1344.92 997.01ZM1346.18 999.51L1348.85 1003.51L1347.85 1003.51L1345.18 999.51ZM1347.52 1002.3L1352.02 1004.23L1352.02 1005.23L1347.52 1003.3ZM1351.02 1004.23L1355.52 1002.3L1355.52 1003.3L1351.02 1005.23ZM1354.18 1003.51L1356.85 999.51L1357.85 999.51L1355.18 1003.51ZM1356.42 1000.51L1357.12 997.01L1358.12 997.01L1357.42 1000.51ZM1357.1 998.01L1356.43 994.01L1357.43 994.01L1358.1 998.01ZM1356.92 995.01L1354.12 991.51L1355.12 991.51L1357.92 995.01ZM1355.52 992.73L1351.02 990.8L1351.02 989.8L1355.52 991.73ZM1363.02 990.01L1363.02 1005.01L1362.02 1005.01L1362.02 990.01ZM1362.02 993.51L1366.02 989.51L1366.02 990.51L1362.02 994.51ZM1365.02 990.01L1370.02 990.01L1370.02 991.01L1365.02 991.01ZM1369.68 990.01L1372.35 994.01L1371.35 994.01L1368.68 990.01ZM1372.02 993.01L1372.02 1005.01L1371.02 1005.01L1371.02 993.01ZM1377.02 990.01L1385.02 990.01L1385.02 991.01L1377.02 991.01ZM1381.02 984.01L1381.02 1002.01L1380.02 1002.01L1380.02 984.01ZM1380.77 1001.01L1382.27 1004.01L1381.27 1004.01L1379.77 1001.01ZM1381.02 1002.76L1384.02 1004.26L1384.02 1005.26L1381.02 1003.76ZM1388.02 992.31L1394.02 988.71L1394.02 989.71L1388.02 993.31ZM1393.02 988.61L1399.02 993.41L1399.02 994.41L1393.02 989.61ZM1399.02 993.01L1399.02 1005.01L1398.02 1005.01L1398.02 993.01ZM1398.02 1004.01L1400.02 1004.01L1400.02 1005.01L1398.02 1005.01ZM1399.02 995.89L1390.02 998.14L1390.02 997.14L1399.02 994.89ZM1391.35 997.01L1388.68 1001.01L1387.68 1001.01L1390.35 997.01ZM1388.64 1000.01L1392.39 1005.01L1391.39 1005.01L1387.64 1000.01ZM1391.02 1004.26L1396.02 1001.76L1396.02 1002.76L1391.02 1005.26ZM1395.02 1002.18L1399.02 1000.85L1399.02 1001.85L1395.02 1003.18ZM1406.02 990.01L1406.02 1005.01L1405.02 1005.01L1405.02 990.01ZM1412.02 990.01L1412.02 1005.01L1411.02 1005.01L1411.02 990.01ZM1411.02 993.51L1415.02 989.51L1415.02 990.51L1411.02 994.51ZM1414.02 990.01L1419.02 990.01L1419.02 991.01L1414.02 991.01ZM1418.68 990.01L1421.35 994.01L1420.35 994.01L1417.68 990.01ZM1421.02 993.01L1421.02 1005.01L1420.02 1005.01L1420.02 993.01ZM1436.02 994.51L1431.02 989.51L1431.02 988.51L1436.02 993.51ZM1432.02 989.89L1427.02 991.14L1427.02 990.14L1432.02 988.89ZM1428.02 990.01L1428.02 995.01L1427.02 995.01L1427.02 990.01ZM1427.02 993.76L1430.02 995.26L1430.02 996.26L1427.02 994.76ZM1429.02 994.7L1438.02 1000.33L1438.02 1001.33L1429.02 995.7ZM1438.02 1000.01L1438.02 1002.01L1437.02 1002.01L1437.02 1000.01ZM1438.02 1001.51L1434.02 1005.51L1434.02 1004.51L1438.02 1000.51ZM1435.02 1005.01L1429.02 1005.01L1429.02 1004.01L1435.02 1004.01ZM1429.39 1005.01L1425.64 1000.01L1426.64 1000.01L1430.39 1005.01ZM1405 984h1v2h-1zM535.39 1295.01L531.64 1290.01L532.64 1290.01L536.39 1295.01ZM533.02 1291.14L528.02 1289.89L528.02 1288.89L533.02 1290.14ZM529.02 1289.85L525.02 1291.18L525.02 1290.18L529.02 1288.85ZM526.02 1290.51L522.02 1294.51L522.02 1293.51L526.02 1289.51ZM523.22 1293.01L520.82 1299.01L519.82 1299.01L522.22 1293.01ZM521.02 1298.01L521.02 1302.01L520.02 1302.01L520.02 1298.01ZM520.92 1301.01L522.12 1307.01L521.12 1307.01L519.92 1301.01ZM521.02 1305.51L524.02 1308.51L524.02 1309.51L521.02 1306.51ZM523.02 1307.76L528.02 1310.26L528.02 1311.26L523.02 1308.76ZM527.02 1310.01L532.02 1310.01L532.02 1311.01L527.02 1311.01ZM530.62 1311.01L535.42 1305.01L536.42 1305.01L531.62 1311.01ZM546.02 1296.8L541.52 1298.73L541.52 1297.73L546.02 1295.8ZM542.92 1297.51L540.12 1301.01L539.12 1301.01L541.92 1297.51ZM540.6 1300.01L539.93 1304.01L538.93 1304.01L539.6 1300.01ZM539.92 1303.01L540.62 1306.51L539.62 1306.51L538.92 1303.01ZM540.18 1305.51L542.85 1309.51L541.85 1309.51L539.18 1305.51ZM541.52 1308.3L546.02 1310.23L546.02 1311.23L541.52 1309.3ZM545.02 1310.23L549.52 1308.3L549.52 1309.3L545.02 1311.23ZM548.18 1309.51L550.85 1305.51L551.85 1305.51L549.18 1309.51ZM550.42 1306.51L551.12 1303.01L552.12 1303.01L551.42 1306.51ZM551.1 1304.01L550.43 1300.01L551.43 1300.01L552.1 1304.01ZM550.92 1301.01L548.12 1297.51L549.12 1297.51L551.92 1301.01ZM549.52 1298.73L545.02 1296.8L545.02 1295.8L549.52 1297.73ZM558.02 1296.01L558.02 1311.01L557.02 1311.01L557.02 1296.01ZM557.02 1299.51L561.02 1295.51L561.02 1296.51L557.02 1300.51ZM560.02 1296.01L565.02 1296.01L565.02 1297.01L560.02 1297.01ZM564.68 1296.01L567.35 1300.01L566.35 1300.01L563.68 1296.01ZM567.02 1299.01L567.02 1311.01L566.02 1311.01L566.02 1299.01ZM571.02 1296.01L579.02 1296.01L579.02 1297.01L571.02 1297.01ZM575.02 1290.01L575.02 1308.01L574.02 1308.01L574.02 1290.01ZM574.77 1307.01L576.27 1310.01L575.27 1310.01L573.77 1307.01ZM575.02 1308.76L578.02 1310.26L578.02 1311.26L575.02 1309.76ZM582.02 1298.31L588.02 1294.71L588.02 1295.71L582.02 1299.31ZM587.02 1294.61L593.02 1299.41L593.02 1300.41L587.02 1295.61ZM593.02 1299.01L593.02 1311.01L592.02 1311.01L592.02 1299.01ZM592.02 1310.01L594.02 1310.01L594.02 1311.01L592.02 1311.01ZM593.02 1301.89L584.02 1304.14L584.02 1303.14L593.02 1300.89ZM585.35 1303.01L582.68 1307.01L581.68 1307.01L584.35 1303.01ZM582.64 1306.01L586.39 1311.01L585.39 1311.01L581.64 1306.01ZM585.02 1310.26L590.02 1307.76L590.02 1308.76L585.02 1311.26ZM589.02 1308.18L593.02 1306.85L593.02 1307.85L589.02 1309.18ZM600.02 1296.01L600.02 1311.01L599.02 1311.01L599.02 1296.01ZM607.02 1296.01L607.02 1311.01L606.02 1311.01L606.02 1296.01ZM606.02 1299.51L610.02 1295.51L610.02 1296.51L606.02 1300.51ZM609.02 1296.01L614.02 1296.01L614.02 1297.01L609.02 1297.01ZM613.68 1296.01L616.35 1300.01L615.35 1300.01L612.68 1296.01ZM616.02 1299.01L616.02 1311.01L615.02 1311.01L615.02 1299.01ZM630.02 1300.51L625.02 1295.51L625.02 1294.51L630.02 1299.51ZM626.02 1295.89L621.02 1297.14L621.02 1296.14L626.02 1294.89ZM622.02 1296.01L622.02 1301.01L621.02 1301.01L621.02 1296.01ZM621.02 1299.76L624.02 1301.26L624.02 1302.26L621.02 1300.76ZM623.02 1300.7L632.02 1306.33L632.02 1307.33L623.02 1301.7ZM632.02 1306.01L632.02 1308.01L631.02 1308.01L631.02 1306.01ZM632.02 1307.51L628.02 1311.51L628.02 1310.51L632.02 1306.51ZM629.02 1311.01L623.02 1311.01L623.02 1310.01L629.02 1310.01ZM623.39 1311.01L619.64 1306.01L620.64 1306.01L624.39 1311.01ZM599 1290h1v2h-1zM1053.39 1295.01L1049.64 1290.01L1050.64 1290.01L1054.39 1295.01ZM1051.02 1291.14L1046.02 1289.89L1046.02 1288.89L1051.02 1290.14ZM1047.02 1289.85L1043.02 1291.18L1043.02 1290.18L1047.02 1288.85ZM1044.02 1290.51L1040.02 1294.51L1040.02 1293.51L1044.02 1289.51ZM1041.22 1293.01L1038.82 1299.01L1037.82 1299.01L1040.22 1293.01ZM1039.02 1298.01L1039.02 1302.01L1038.02 1302.01L1038.02 1298.01ZM1038.92 1301.01L1040.12 1307.01L1039.12 1307.01L1037.92 1301.01ZM1039.02 1305.51L1042.02 1308.51L1042.02 1309.51L1039.02 1306.51ZM1041.02 1307.76L1046.02 1310.26L1046.02 1311.26L1041.02 1308.76ZM1045.02 1310.01L1050.02 1310.01L1050.02 1311.01L1045.02 1311.01ZM1048.62 1311.01L1053.42 1305.01L1054.42 1305.01L1049.62 1311.01ZM1064.02 1296.8L1059.52 1298.73L1059.52 1297.73L1064.02 1295.8ZM1060.92 1297.51L1058.12 1301.01L1057.12 1301.01L1059.92 1297.51ZM1058.6 1300.01L1057.93 1304.01L1056.93 1304.01L1057.6 1300.01ZM1057.92 1303.01L1058.62 1306.51L1057.62 1306.51L1056.92 1303.01ZM1058.18 1305.51L1060.85 1309.51L1059.85 1309.51L1057.18 1305.51ZM1059.52 1308.3L1064.02 1310.23L1064.02 1311.23L1059.52 1309.3ZM1063.02 1310.23L1067.52 1308.3L1067.52 1309.3L1063.02 1311.23ZM1066.18 1309.51L1068.85 1305.51L1069.85 1305.51L1067.18 1309.51ZM1068.42 1306.51L1069.12 1303.01L1070.12 1303.01L1069.42 1306.51ZM1069.1 1304.01L1068.43 1300.01L1069.43 1300.01L1070.1 1304.01ZM1068.92 1301.01L1066.12 1297.51L1067.12 1297.51L1069.92 1301.01ZM1067.52 1298.73L1063.02 1296.8L1063.02 1295.8L1067.52 1297.73ZM1075.02 1296.01L1075.02 1311.01L1074.02 1311.01L1074.02 1296.01ZM1074.02 1299.51L1078.02 1295.51L1078.02 1296.51L1074.02 1300.51ZM1077.02 1296.01L1082.02 1296.01L1082.02 1297.01L1077.02 1297.01ZM1081.68 1296.01L1084.35 1300.01L1083.35 1300.01L1080.68 1296.01ZM1084.02 1299.01L1084.02 1311.01L1083.02 1311.01L1083.02 1299.01ZM1089.02 1296.01L1097.02 1296.01L1097.02 1297.01L1089.02 1297.01ZM1093.02 1290.01L1093.02 1308.01L1092.02 1308.01L1092.02 1290.01ZM1092.77 1307.01L1094.27 1310.01L1093.27 1310.01L1091.77 1307.01ZM1093.02 1308.76L1096.02 1310.26L1096.02 1311.26L1093.02 1309.76ZM1100.02 1298.31L1106.02 1294.71L1106.02 1295.71L1100.02 1299.31ZM1105.02 1294.61L1111.02 1299.41L1111.02 1300.41L1105.02 1295.61ZM1111.02 1299.01L1111.02 1311.01L1110.02 1311.01L1110.02 1299.01ZM1110.02 1310.01L1112.02 1310.01L1112.02 1311.01L1110.02 1311.01ZM1111.02 1301.89L1102.02 1304.14L1102.02 1303.14L1111.02 1300.89ZM1103.35 1303.01L1100.68 1307.01L1099.68 1307.01L1102.35 1303.01ZM1100.64 1306.01L1104.39 1311.01L1103.39 1311.01L1099.64 1306.01ZM1103.02 1310.26L1108.02 1307.76L1108.02 1308.76L1103.02 1311.26ZM1107.02 1308.18L1111.02 1306.85L1111.02 1307.85L1107.02 1309.18ZM1118.02 1296.01L1118.02 1311.01L1117.02 1311.01L1117.02 1296.01ZM1124.02 1296.01L1124.02 1311.01L1123.02 1311.01L1123.02 1296.01ZM1123.02 1299.51L1127.02 1295.51L1127.02 1296.51L1123.02 1300.51ZM1126.02 1296.01L1131.02 1296.01L1131.02 1297.01L1126.02 1297.01ZM1130.68 1296.01L1133.35 1300.01L1132.35 1300.01L1129.68 1296.01ZM1133.02 1299.01L1133.02 1311.01L1132.02 1311.01L1132.02 1299.01ZM1148.02 1300.51L1143.02 1295.51L1143.02 1294.51L1148.02 1299.51ZM1144.02 1295.89L1139.02 1297.14L1139.02 1296.14L1144.02 1294.89ZM1140.02 1296.01L1140.02 1301.01L1139.02 1301.01L1139.02 1296.01ZM1139.02 1299.76L1142.02 1301.26L1142.02 1302.26L1139.02 1300.76ZM1141.02 1300.7L1150.02 1306.33L1150.02 1307.33L1141.02 1301.7ZM1150.02 1306.01L1150.02 1308.01L1149.02 1308.01L1149.02 1306.01ZM1150.02 1307.51L1146.02 1311.51L1146.02 1310.51L1150.02 1306.51ZM1147.02 1311.01L1141.02 1311.01L1141.02 1310.01L1147.02 1310.01ZM1141.39 1311.01L1137.64 1306.01L1138.64 1306.01L1142.39 1311.01ZM1117 1290h1v2h-1zM781.39 1709.01L777.64 1704.01L778.64 1704.01L782.39 1709.01ZM779.02 1705.14L774.02 1703.89L774.02 1702.89L779.02 1704.14ZM775.02 1703.85L771.02 1705.18L771.02 1704.18L775.02 1702.85ZM772.02 1704.51L768.02 1708.51L768.02 1707.51L772.02 1703.51ZM769.22 1707.01L766.82 1713.01L765.82 1713.01L768.22 1707.01ZM767.02 1712.01L767.02 1716.01L766.02 1716.01L766.02 1712.01ZM766.92 1715.01L768.12 1721.01L767.12 1721.01L765.92 1715.01ZM767.02 1719.51L770.02 1722.51L770.02 1723.51L767.02 1720.51ZM769.02 1721.76L774.02 1724.26L774.02 1725.26L769.02 1722.76ZM773.02 1724.01L778.02 1724.01L778.02 1725.01L773.02 1725.01ZM776.62 1725.01L781.42 1719.01L782.42 1719.01L777.62 1725.01ZM793.02 1710.8L788.52 1712.73L788.52 1711.73L793.02 1709.8ZM789.92 1711.51L787.12 1715.01L786.12 1715.01L788.92 1711.51ZM787.6 1714.01L786.93 1718.01L785.93 1718.01L786.6 1714.01ZM786.92 1717.01L787.62 1720.51L786.62 1720.51L785.92 1717.01ZM787.18 1719.51L789.85 1723.51L788.85 1723.51L786.18 1719.51ZM788.52 1722.3L793.02 1724.23L793.02 1725.23L788.52 1723.3ZM792.02 1724.23L796.52 1722.3L796.52 1723.3L792.02 1725.23ZM795.18 1723.51L797.85 1719.51L798.85 1719.51L796.18 1723.51ZM797.42 1720.51L798.12 1717.01L799.12 1717.01L798.42 1720.51ZM798.1 1718.01L797.43 1714.01L798.43 1714.01L799.1 1718.01ZM797.92 1715.01L795.12 1711.51L796.12 1711.51L798.92 1715.01ZM796.52 1712.73L792.02 1710.8L792.02 1709.8L796.52 1711.73ZM804.02 1710.01L804.02 1725.01L803.02 1725.01L803.02 1710.01ZM803.02 1713.51L807.02 1709.51L807.02 1710.51L803.02 1714.51ZM806.02 1710.01L811.02 1710.01L811.02 1711.01L806.02 1711.01ZM810.68 1710.01L813.35 1714.01L812.35 1714.01L809.68 1710.01ZM813.02 1713.01L813.02 1725.01L812.02 1725.01L812.02 1713.01ZM817.02 1710.01L825.02 1710.01L825.02 1711.01L817.02 1711.01ZM821.02 1704.01L821.02 1722.01L820.02 1722.01L820.02 1704.01ZM820.77 1721.01L822.27 1724.01L821.27 1724.01L819.77 1721.01ZM821.02 1722.76L824.02 1724.26L824.02 1725.26L821.02 1723.76ZM828.02 1712.31L834.02 1708.71L834.02 1709.71L828.02 1713.31ZM833.02 1708.61L839.02 1713.41L839.02 1714.41L833.02 1709.61ZM839.02 1713.01L839.02 1725.01L838.02 1725.01L838.02 1713.01ZM838.02 1724.01L840.02 1724.01L840.02 1725.01L838.02 1725.01ZM839.02 1715.89L830.02 1718.14L830.02 1717.14L839.02 1714.89ZM831.35 1717.01L828.68 1721.01L827.68 1721.01L830.35 1717.01ZM828.64 1720.01L832.39 1725.01L831.39 1725.01L827.64 1720.01ZM831.02 1724.26L836.02 1721.76L836.02 1722.76L831.02 1725.26ZM835.02 1722.18L839.02 1720.85L839.02 1721.85L835.02 1723.18ZM847.02 1710.01L847.02 1725.01L846.02 1725.01L846.02 1710.01ZM853.02 1710.01L853.02 1725.01L852.02 1725.01L852.02 1710.01ZM852.02 1713.51L856.02 1709.51L856.02 1710.51L852.02 1714.51ZM855.02 1710.01L860.02 1710.01L860.02 1711.01L855.02 1711.01ZM859.68 1710.01L862.35 1714.01L861.35 1714.01L858.68 1710.01ZM862.02 1713.01L862.02 1725.01L861.02 1725.01L861.02 1713.01ZM876.02 1714.51L871.02 1709.51L871.02 1708.51L876.02 1713.51ZM872.02 1709.89L867.02 1711.14L867.02 1710.14L872.02 1708.89ZM868.02 1710.01L868.02 1715.01L867.02 1715.01L867.02 1710.01ZM867.02 1713.76L870.02 1715.26L870.02 1716.26L867.02 1714.76ZM869.02 1714.7L878.02 1720.33L878.02 1721.33L869.02 1715.7ZM878.02 1720.01L878.02 1722.01L877.02 1722.01L877.02 1720.01ZM878.02 1721.51L874.02 1725.51L874.02 1724.51L878.02 1720.51ZM875.02 1725.01L869.02 1725.01L869.02 1724.01L875.02 1724.01ZM869.39 1725.01L865.64 1720.01L866.64 1720.01L870.39 1725.01ZM846 1704h1v2h-1zM1130.39 1709.01L1126.64 1704.01L1127.64 1704.01L1131.39 1709.01ZM1128.02 1705.14L1123.02 1703.89L1123.02 1702.89L1128.02 1704.14ZM1124.02 1703.85L1120.02 1705.18L1120.02 1704.18L1124.02 1702.85ZM1121.02 1704.51L1117.02 1708.51L1117.02 1707.51L1121.02 1703.51ZM1118.22 1707.01L1115.82 1713.01L1114.82 1713.01L1117.22 1707.01ZM1116.02 1712.01L1116.02 1716.01L1115.02 1716.01L1115.02 1712.01ZM1115.92 1715.01L1117.12 1721.01L1116.12 1721.01L1114.92 1715.01ZM1116.02 1719.51L1119.02 1722.51L1119.02 1723.51L1116.02 1720.51ZM1118.02 1721.76L1123.02 1724.26L1123.02 1725.26L1118.02 1722.76ZM1122.02 1724.01L1127.02 1724.01L1127.02 1725.01L1122.02 1725.01ZM1125.62 1725.01L1130.42 1719.01L1131.42 1719.01L1126.62 1725.01ZM1141.02 1710.8L1136.52 1712.73L1136.52 1711.73L1141.02 1709.8ZM1137.92 1711.51L1135.12 1715.01L1134.12 1715.01L1136.92 1711.51ZM1135.6 1714.01L1134.93 1718.01L1133.93 1718.01L1134.6 1714.01ZM1134.92 1717.01L1135.62 1720.51L1134.62 1720.51L1133.92 1717.01ZM1135.18 1719.51L1137.85 1723.51L1136.85 1723.51L1134.18 1719.51ZM1136.52 1722.3L1141.02 1724.23L1141.02 1725.23L1136.52 1723.3ZM1140.02 1724.23L1144.52 1722.3L1144.52 1723.3L1140.02 1725.23ZM1143.18 1723.51L1145.85 1719.51L1146.85 1719.51L1144.18 1723.51ZM1145.42 1720.51L1146.12 1717.01L1147.12 1717.01L1146.42 1720.51ZM1146.1 1718.01L1145.43 1714.01L1146.43 1714.01L1147.1 1718.01ZM1145.92 1715.01L1143.12 1711.51L1144.12 1711.51L1146.92 1715.01ZM1144.52 1712.73L1140.02 1710.8L1140.02 1709.8L1144.52 1711.73ZM1153.02 1710.01L1153.02 1725.01L1152.02 1725.01L1152.02 1710.01ZM1152.02 1713.51L1156.02 1709.51L1156.02 1710.51L1152.02 1714.51ZM1155.02 1710.01L1160.02 1710.01L1160.02 1711.01L1155.02 1711.01ZM1159.68 1710.01L1162.35 1714.01L1161.35 1714.01L1158.68 1710.01ZM1162.02 1713.01L1162.02 1725.01L1161.02 1725.01L1161.02 1713.01ZM1166.02 1710.01L1174.02 1710.01L1174.02 1711.01L1166.02 1711.01ZM1170.02 1704.01L1170.02 1722.01L1169.02 1722.01L1169.02 1704.01ZM1169.77 1721.01L1171.27 1724.01L1170.27 1724.01L1168.77 1721.01ZM1170.02 1722.76L1173.02 1724.26L1173.02 1725.26L1170.02 1723.76ZM1177.02 1712.31L1183.02 1708.71L1183.02 1709.71L1177.02 1713.31ZM1182.02 1708.61L1188.02 1713.41L1188.02 1714.41L1182.02 1709.61ZM1188.02 1713.01L1188.02 1725.01L1187.02 1725.01L1187.02 1713.01ZM1187.02 1724.01L1189.02 1724.01L1189.02 1725.01L1187.02 1725.01ZM1188.02 1715.89L1179.02 1718.14L1179.02 1717.14L1188.02 1714.89ZM1180.35 1717.01L1177.68 1721.01L1176.68 1721.01L1179.35 1717.01ZM1177.64 1720.01L1181.39 1725.01L1180.39 1725.01L1176.64 1720.01ZM1180.02 1724.26L1185.02 1721.76L1185.02 1722.76L1180.02 1725.26ZM1184.02 1722.18L1188.02 1720.85L1188.02 1721.85L1184.02 1723.18ZM1195.02 1710.01L1195.02 1725.01L1194.02 1725.01L1194.02 1710.01ZM1202.02 1710.01L1202.02 1725.01L1201.02 1725.01L1201.02 1710.01ZM1201.02 1713.51L1205.02 1709.51L1205.02 1710.51L1201.02 1714.51ZM1204.02 1710.01L1209.02 1710.01L1209.02 1711.01L1204.02 1711.01ZM1208.68 1710.01L1211.35 1714.01L1210.35 1714.01L1207.68 1710.01ZM1211.02 1713.01L1211.02 1725.01L1210.02 1725.01L1210.02 1713.01ZM1225.02 1714.51L1220.02 1709.51L1220.02 1708.51L1225.02 1713.51ZM1221.02 1709.89L1216.02 1711.14L1216.02 1710.14L1221.02 1708.89ZM1217.02 1710.01L1217.02 1715.01L1216.02 1715.01L1216.02 1710.01ZM1216.02 1713.76L1219.02 1715.26L1219.02 1716.26L1216.02 1714.76ZM1218.02 1714.7L1227.02 1720.33L1227.02 1721.33L1218.02 1715.7ZM1227.02 1720.01L1227.02 1722.01L1226.02 1722.01L1226.02 1720.01ZM1227.02 1721.51L1223.02 1725.51L1223.02 1724.51L1227.02 1720.51ZM1224.02 1725.01L1218.02 1725.01L1218.02 1724.01L1224.02 1724.01ZM1218.39 1725.01L1214.64 1720.01L1215.64 1720.01L1219.39 1725.01ZM1194 1704h1v2h-1zM1253.02 1291.01L1253.02 1312.01L1252.02 1312.01L1252.02 1291.01ZM1266.02 1291.51L1252.02 1305.51L1252.02 1304.51L1266.02 1290.51ZM1258.67 1298.01L1268.36 1312.01L1267.36 1312.01L1257.67 1298.01ZM1270.02 1304.01L1282.02 1304.01L1282.02 1305.01L1270.02 1305.01ZM1281.1 1305.01L1280.43 1301.01L1281.43 1301.01L1282.1 1305.01ZM1280.92 1302.01L1278.12 1298.51L1279.12 1298.51L1281.92 1302.01ZM1279.52 1299.73L1275.02 1297.8L1275.02 1296.8L1279.52 1298.73ZM1276.02 1297.8L1271.52 1299.73L1271.52 1298.73L1276.02 1296.8ZM1272.82 1298.51L1270.72 1302.01L1269.72 1302.01L1271.82 1298.51ZM1271.02 1301.01L1271.02 1307.51L1270.02 1307.51L1270.02 1301.01ZM1270.82 1306.51L1272.22 1310.01L1271.22 1310.01L1269.82 1306.51ZM1271.02 1308.61L1274.52 1311.41L1274.52 1312.41L1271.02 1309.61ZM1273.52 1311.01L1277.52 1311.01L1277.52 1312.01L1273.52 1312.01ZM1276.52 1311.26L1280.52 1309.26L1280.52 1310.26L1276.52 1312.26ZM1279.52 1310.01L1282.02 1307.51L1282.02 1308.51L1279.52 1311.01ZM1285.82 1297.01L1291.21 1311.01L1290.21 1311.01L1284.82 1297.01ZM1297.25 1297.01L1290.79 1311.01L1289.79 1311.01L1296.25 1297.01ZM1291.12 1310.01L1289.92 1316.01L1288.92 1316.01L1290.12 1310.01ZM1290.02 1315.76L1287.02 1317.26L1287.02 1316.26L1290.02 1314.76ZM1288.02 1317.26L1285.02 1315.76L1285.02 1314.76L1288.02 1316.26Z"/></svg></body></html>
